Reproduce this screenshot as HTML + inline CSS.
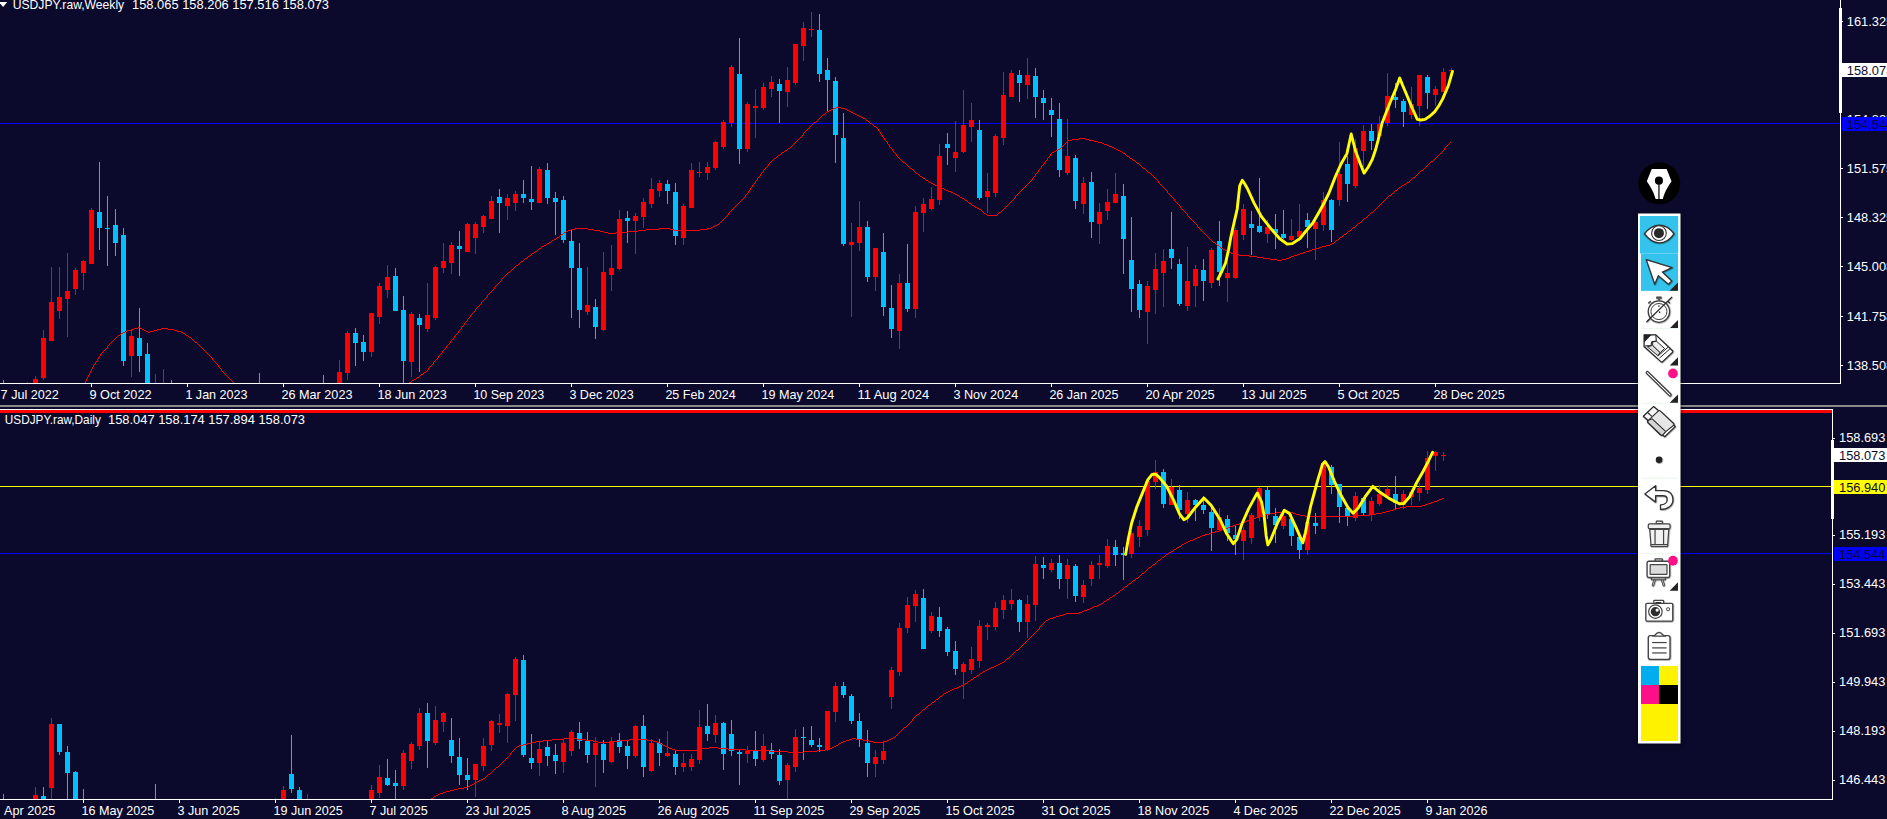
<!DOCTYPE html>
<html><head><meta charset="utf-8"><title>USDJPY</title>
<style>
html,body{margin:0;padding:0;background:#0b0a2c;overflow:hidden}
svg{display:block}
text{font-family:"Liberation Sans",Arial,sans-serif;font-size:13px}
</style></head><body>
<svg width="1887" height="819" viewBox="0 0 1887 819">
<rect width="1887" height="819" fill="#0b0a2c"/>

<g id="top" shape-rendering="crispEdges">
<clipPath id="ctop"><rect x="0" y="0" width="1840" height="383"/></clipPath>
<g clip-path="url(#ctop)">
<rect x="0" y="123" width="1840" height="1" fill="#0000ff"/>
<rect x="3" y="380" width="1" height="3" fill="#00bfff"/>
<rect x="27" y="382" width="1" height="1" fill="#ff0000"/>
<rect x="35" y="376" width="1" height="7" fill="#ff0000"/>
<rect x="33" y="379" width="5" height="4" fill="#ff0000"/>
<rect x="43" y="330" width="1" height="50" fill="#ff0000"/>
<rect x="41" y="338" width="5" height="40" fill="#ff0000"/>
<rect x="51" y="267" width="1" height="74" fill="#ff0000"/>
<rect x="49" y="302" width="5" height="39" fill="#ff0000"/>
<rect x="59" y="267" width="1" height="52" fill="#ff0000"/>
<rect x="57" y="297" width="5" height="14" fill="#ff0000"/>
<rect x="67" y="253" width="1" height="84" fill="#ff0000"/>
<rect x="65" y="291" width="5" height="8" fill="#ff0000"/>
<rect x="75" y="268" width="1" height="27" fill="#ff0000"/>
<rect x="73" y="270" width="5" height="19" fill="#ff0000"/>
<rect x="83" y="260" width="1" height="30" fill="#ff0000"/>
<rect x="81" y="261" width="5" height="12" fill="#ff0000"/>
<rect x="91" y="208" width="1" height="56" fill="#ff0000"/>
<rect x="89" y="210" width="5" height="54" fill="#ff0000"/>
<rect x="99" y="162" width="1" height="88" fill="#00bfff"/>
<rect x="97" y="212" width="5" height="16" fill="#00bfff"/>
<rect x="107" y="196" width="1" height="70" fill="#00bfff"/>
<rect x="105" y="228" width="5" height="1" fill="#00bfff"/>
<rect x="115" y="209" width="1" height="47" fill="#00bfff"/>
<rect x="113" y="225" width="5" height="18" fill="#00bfff"/>
<rect x="123" y="228" width="1" height="138" fill="#00bfff"/>
<rect x="121" y="235" width="5" height="126" fill="#00bfff"/>
<rect x="131" y="330" width="1" height="47" fill="#ff0000"/>
<rect x="129" y="336" width="5" height="20" fill="#ff0000"/>
<rect x="139" y="308" width="1" height="64" fill="#00bfff"/>
<rect x="137" y="338" width="5" height="18" fill="#00bfff"/>
<rect x="147" y="343" width="1" height="40" fill="#00bfff"/>
<rect x="145" y="354" width="5" height="29" fill="#00bfff"/>
<rect x="155" y="374" width="1" height="9" fill="#ff0000"/>
<rect x="163" y="369" width="1" height="14" fill="#ff0000"/>
<rect x="171" y="380" width="1" height="3" fill="#00bfff"/>
<rect x="259" y="373" width="1" height="10" fill="#00bfff"/>
<rect x="323" y="375" width="1" height="8" fill="#00bfff"/>
<rect x="339" y="360" width="1" height="23" fill="#ff0000"/>
<rect x="337" y="372" width="5" height="11" fill="#ff0000"/>
<rect x="347" y="331" width="1" height="49" fill="#ff0000"/>
<rect x="345" y="333" width="5" height="40" fill="#ff0000"/>
<rect x="355" y="328" width="1" height="38" fill="#00bfff"/>
<rect x="353" y="333" width="5" height="10" fill="#00bfff"/>
<rect x="363" y="335" width="1" height="26" fill="#00bfff"/>
<rect x="361" y="342" width="5" height="10" fill="#00bfff"/>
<rect x="371" y="313" width="1" height="44" fill="#ff0000"/>
<rect x="369" y="313" width="5" height="39" fill="#ff0000"/>
<rect x="379" y="283" width="1" height="41" fill="#ff0000"/>
<rect x="377" y="286" width="5" height="31" fill="#ff0000"/>
<rect x="387" y="265" width="1" height="33" fill="#ff0000"/>
<rect x="385" y="277" width="5" height="13" fill="#ff0000"/>
<rect x="395" y="268" width="1" height="43" fill="#00bfff"/>
<rect x="393" y="276" width="5" height="35" fill="#00bfff"/>
<rect x="403" y="296" width="1" height="87" fill="#00bfff"/>
<rect x="401" y="310" width="5" height="51" fill="#00bfff"/>
<rect x="411" y="312" width="1" height="65" fill="#ff0000"/>
<rect x="409" y="314" width="5" height="48" fill="#ff0000"/>
<rect x="419" y="314" width="1" height="58" fill="#00bfff"/>
<rect x="417" y="318" width="5" height="7" fill="#00bfff"/>
<rect x="427" y="283" width="1" height="49" fill="#ff0000"/>
<rect x="425" y="315" width="5" height="14" fill="#ff0000"/>
<rect x="435" y="266" width="1" height="54" fill="#ff0000"/>
<rect x="433" y="267" width="5" height="51" fill="#ff0000"/>
<rect x="443" y="243" width="1" height="30" fill="#ff0000"/>
<rect x="441" y="261" width="5" height="7" fill="#ff0000"/>
<rect x="451" y="242" width="1" height="32" fill="#ff0000"/>
<rect x="449" y="245" width="5" height="18" fill="#ff0000"/>
<rect x="459" y="231" width="1" height="45" fill="#00bfff"/>
<rect x="457" y="246" width="5" height="3" fill="#00bfff"/>
<rect x="467" y="223" width="1" height="29" fill="#ff0000"/>
<rect x="465" y="224" width="5" height="28" fill="#ff0000"/>
<rect x="475" y="222" width="1" height="32" fill="#ff0000"/>
<rect x="473" y="224" width="5" height="14" fill="#ff0000"/>
<rect x="483" y="215" width="1" height="18" fill="#ff0000"/>
<rect x="481" y="216" width="5" height="11" fill="#ff0000"/>
<rect x="491" y="196" width="1" height="23" fill="#ff0000"/>
<rect x="489" y="201" width="5" height="18" fill="#ff0000"/>
<rect x="499" y="189" width="1" height="44" fill="#00bfff"/>
<rect x="497" y="197" width="5" height="6" fill="#00bfff"/>
<rect x="507" y="194" width="1" height="26" fill="#ff0000"/>
<rect x="505" y="198" width="5" height="8" fill="#ff0000"/>
<rect x="515" y="191" width="1" height="20" fill="#ff0000"/>
<rect x="513" y="194" width="5" height="9" fill="#ff0000"/>
<rect x="523" y="180" width="1" height="23" fill="#00bfff"/>
<rect x="521" y="194" width="5" height="4" fill="#00bfff"/>
<rect x="531" y="166" width="1" height="44" fill="#00bfff"/>
<rect x="529" y="199" width="5" height="3" fill="#00bfff"/>
<rect x="539" y="167" width="1" height="36" fill="#ff0000"/>
<rect x="537" y="169" width="5" height="34" fill="#ff0000"/>
<rect x="547" y="163" width="1" height="41" fill="#00bfff"/>
<rect x="545" y="170" width="5" height="28" fill="#00bfff"/>
<rect x="555" y="192" width="1" height="43" fill="#00bfff"/>
<rect x="553" y="198" width="5" height="4" fill="#00bfff"/>
<rect x="563" y="196" width="1" height="47" fill="#00bfff"/>
<rect x="561" y="200" width="5" height="40" fill="#00bfff"/>
<rect x="571" y="230" width="1" height="88" fill="#00bfff"/>
<rect x="569" y="241" width="5" height="27" fill="#00bfff"/>
<rect x="579" y="243" width="1" height="85" fill="#00bfff"/>
<rect x="577" y="268" width="5" height="42" fill="#00bfff"/>
<rect x="587" y="267" width="1" height="48" fill="#ff0000"/>
<rect x="585" y="305" width="5" height="7" fill="#ff0000"/>
<rect x="595" y="299" width="1" height="40" fill="#00bfff"/>
<rect x="593" y="307" width="5" height="20" fill="#00bfff"/>
<rect x="603" y="252" width="1" height="79" fill="#ff0000"/>
<rect x="601" y="272" width="5" height="58" fill="#ff0000"/>
<rect x="611" y="245" width="1" height="46" fill="#ff0000"/>
<rect x="609" y="268" width="5" height="7" fill="#ff0000"/>
<rect x="619" y="210" width="1" height="60" fill="#ff0000"/>
<rect x="617" y="219" width="5" height="50" fill="#ff0000"/>
<rect x="627" y="211" width="1" height="32" fill="#00bfff"/>
<rect x="625" y="218" width="5" height="3" fill="#00bfff"/>
<rect x="635" y="213" width="1" height="41" fill="#ff0000"/>
<rect x="633" y="216" width="5" height="5" fill="#ff0000"/>
<rect x="643" y="198" width="1" height="30" fill="#ff0000"/>
<rect x="641" y="202" width="5" height="15" fill="#ff0000"/>
<rect x="651" y="178" width="1" height="30" fill="#ff0000"/>
<rect x="649" y="189" width="5" height="15" fill="#ff0000"/>
<rect x="659" y="180" width="1" height="17" fill="#ff0000"/>
<rect x="657" y="183" width="5" height="8" fill="#ff0000"/>
<rect x="667" y="180" width="1" height="24" fill="#00bfff"/>
<rect x="665" y="184" width="5" height="7" fill="#00bfff"/>
<rect x="675" y="183" width="1" height="62" fill="#00bfff"/>
<rect x="673" y="192" width="5" height="44" fill="#00bfff"/>
<rect x="683" y="204" width="1" height="41" fill="#ff0000"/>
<rect x="681" y="206" width="5" height="32" fill="#ff0000"/>
<rect x="691" y="163" width="1" height="45" fill="#ff0000"/>
<rect x="689" y="170" width="5" height="38" fill="#ff0000"/>
<rect x="699" y="162" width="1" height="15" fill="#ff0000"/>
<rect x="697" y="172" width="5" height="1" fill="#ff0000"/>
<rect x="707" y="162" width="1" height="18" fill="#ff0000"/>
<rect x="705" y="167" width="5" height="6" fill="#ff0000"/>
<rect x="715" y="141" width="1" height="29" fill="#ff0000"/>
<rect x="713" y="142" width="5" height="26" fill="#ff0000"/>
<rect x="723" y="120" width="1" height="29" fill="#ff0000"/>
<rect x="721" y="122" width="5" height="25" fill="#ff0000"/>
<rect x="731" y="65" width="1" height="62" fill="#ff0000"/>
<rect x="729" y="67" width="5" height="56" fill="#ff0000"/>
<rect x="739" y="38" width="1" height="126" fill="#00bfff"/>
<rect x="737" y="74" width="5" height="75" fill="#00bfff"/>
<rect x="747" y="102" width="1" height="50" fill="#ff0000"/>
<rect x="745" y="104" width="5" height="45" fill="#ff0000"/>
<rect x="755" y="89" width="1" height="49" fill="#ff0000"/>
<rect x="753" y="106" width="5" height="2" fill="#ff0000"/>
<rect x="763" y="83" width="1" height="27" fill="#ff0000"/>
<rect x="761" y="87" width="5" height="21" fill="#ff0000"/>
<rect x="771" y="76" width="1" height="21" fill="#ff0000"/>
<rect x="769" y="82" width="5" height="7" fill="#ff0000"/>
<rect x="779" y="79" width="1" height="44" fill="#00bfff"/>
<rect x="777" y="84" width="5" height="7" fill="#00bfff"/>
<rect x="787" y="67" width="1" height="40" fill="#ff0000"/>
<rect x="785" y="80" width="5" height="12" fill="#ff0000"/>
<rect x="795" y="44" width="1" height="41" fill="#ff0000"/>
<rect x="793" y="44" width="5" height="39" fill="#ff0000"/>
<rect x="803" y="22" width="1" height="39" fill="#ff0000"/>
<rect x="801" y="28" width="5" height="18" fill="#ff0000"/>
<rect x="811" y="12" width="1" height="25" fill="#ff0000"/>
<rect x="809" y="29" width="5" height="1" fill="#ff0000"/>
<rect x="819" y="14" width="1" height="68" fill="#00bfff"/>
<rect x="817" y="30" width="5" height="44" fill="#00bfff"/>
<rect x="827" y="58" width="1" height="54" fill="#00bfff"/>
<rect x="825" y="70" width="5" height="10" fill="#00bfff"/>
<rect x="835" y="77" width="1" height="86" fill="#00bfff"/>
<rect x="833" y="81" width="5" height="54" fill="#00bfff"/>
<rect x="843" y="113" width="1" height="133" fill="#00bfff"/>
<rect x="841" y="138" width="5" height="106" fill="#00bfff"/>
<rect x="851" y="223" width="1" height="94" fill="#ff0000"/>
<rect x="849" y="242" width="5" height="3" fill="#ff0000"/>
<rect x="859" y="201" width="1" height="50" fill="#ff0000"/>
<rect x="857" y="227" width="5" height="16" fill="#ff0000"/>
<rect x="867" y="221" width="1" height="61" fill="#00bfff"/>
<rect x="865" y="227" width="5" height="50" fill="#00bfff"/>
<rect x="875" y="248" width="1" height="43" fill="#ff0000"/>
<rect x="873" y="248" width="5" height="29" fill="#ff0000"/>
<rect x="883" y="233" width="1" height="83" fill="#00bfff"/>
<rect x="881" y="252" width="5" height="55" fill="#00bfff"/>
<rect x="891" y="285" width="1" height="53" fill="#00bfff"/>
<rect x="889" y="308" width="5" height="21" fill="#00bfff"/>
<rect x="899" y="274" width="1" height="75" fill="#ff0000"/>
<rect x="897" y="283" width="5" height="48" fill="#ff0000"/>
<rect x="907" y="244" width="1" height="68" fill="#00bfff"/>
<rect x="905" y="283" width="5" height="26" fill="#00bfff"/>
<rect x="915" y="206" width="1" height="112" fill="#ff0000"/>
<rect x="913" y="212" width="5" height="97" fill="#ff0000"/>
<rect x="923" y="198" width="1" height="34" fill="#ff0000"/>
<rect x="921" y="204" width="5" height="9" fill="#ff0000"/>
<rect x="931" y="187" width="1" height="23" fill="#ff0000"/>
<rect x="929" y="199" width="5" height="10" fill="#ff0000"/>
<rect x="939" y="144" width="1" height="61" fill="#ff0000"/>
<rect x="937" y="156" width="5" height="44" fill="#ff0000"/>
<rect x="947" y="133" width="1" height="32" fill="#00bfff"/>
<rect x="945" y="144" width="5" height="4" fill="#00bfff"/>
<rect x="955" y="121" width="1" height="51" fill="#ff0000"/>
<rect x="953" y="152" width="5" height="6" fill="#ff0000"/>
<rect x="963" y="90" width="1" height="63" fill="#ff0000"/>
<rect x="961" y="125" width="5" height="27" fill="#ff0000"/>
<rect x="971" y="103" width="1" height="39" fill="#ff0000"/>
<rect x="969" y="120" width="5" height="7" fill="#ff0000"/>
<rect x="979" y="120" width="1" height="80" fill="#00bfff"/>
<rect x="977" y="130" width="5" height="68" fill="#00bfff"/>
<rect x="987" y="173" width="1" height="40" fill="#ff0000"/>
<rect x="985" y="191" width="5" height="6" fill="#ff0000"/>
<rect x="995" y="134" width="1" height="63" fill="#ff0000"/>
<rect x="993" y="136" width="5" height="57" fill="#ff0000"/>
<rect x="1003" y="72" width="1" height="73" fill="#ff0000"/>
<rect x="1001" y="95" width="5" height="43" fill="#ff0000"/>
<rect x="1011" y="70" width="1" height="27" fill="#ff0000"/>
<rect x="1009" y="73" width="5" height="24" fill="#ff0000"/>
<rect x="1019" y="70" width="1" height="32" fill="#00bfff"/>
<rect x="1017" y="75" width="5" height="8" fill="#00bfff"/>
<rect x="1027" y="58" width="1" height="41" fill="#ff0000"/>
<rect x="1025" y="75" width="5" height="10" fill="#ff0000"/>
<rect x="1035" y="68" width="1" height="50" fill="#00bfff"/>
<rect x="1033" y="76" width="5" height="21" fill="#00bfff"/>
<rect x="1043" y="90" width="1" height="30" fill="#00bfff"/>
<rect x="1041" y="98" width="5" height="5" fill="#00bfff"/>
<rect x="1051" y="98" width="1" height="39" fill="#00bfff"/>
<rect x="1049" y="110" width="5" height="5" fill="#00bfff"/>
<rect x="1059" y="103" width="1" height="74" fill="#00bfff"/>
<rect x="1057" y="119" width="5" height="51" fill="#00bfff"/>
<rect x="1067" y="119" width="1" height="56" fill="#ff0000"/>
<rect x="1065" y="156" width="5" height="17" fill="#ff0000"/>
<rect x="1075" y="155" width="1" height="54" fill="#00bfff"/>
<rect x="1073" y="158" width="5" height="43" fill="#00bfff"/>
<rect x="1083" y="177" width="1" height="37" fill="#ff0000"/>
<rect x="1081" y="183" width="5" height="21" fill="#ff0000"/>
<rect x="1091" y="172" width="1" height="66" fill="#00bfff"/>
<rect x="1089" y="182" width="5" height="40" fill="#00bfff"/>
<rect x="1099" y="203" width="1" height="41" fill="#ff0000"/>
<rect x="1097" y="212" width="5" height="12" fill="#ff0000"/>
<rect x="1107" y="189" width="1" height="31" fill="#ff0000"/>
<rect x="1105" y="202" width="5" height="9" fill="#ff0000"/>
<rect x="1115" y="173" width="1" height="30" fill="#ff0000"/>
<rect x="1113" y="194" width="5" height="9" fill="#ff0000"/>
<rect x="1123" y="184" width="1" height="90" fill="#00bfff"/>
<rect x="1121" y="196" width="5" height="43" fill="#00bfff"/>
<rect x="1131" y="217" width="1" height="95" fill="#00bfff"/>
<rect x="1129" y="260" width="5" height="29" fill="#00bfff"/>
<rect x="1139" y="280" width="1" height="38" fill="#00bfff"/>
<rect x="1137" y="284" width="5" height="26" fill="#00bfff"/>
<rect x="1147" y="281" width="1" height="63" fill="#ff0000"/>
<rect x="1145" y="286" width="5" height="26" fill="#ff0000"/>
<rect x="1155" y="253" width="1" height="61" fill="#ff0000"/>
<rect x="1153" y="269" width="5" height="21" fill="#ff0000"/>
<rect x="1163" y="249" width="1" height="58" fill="#ff0000"/>
<rect x="1161" y="261" width="5" height="12" fill="#ff0000"/>
<rect x="1171" y="212" width="1" height="57" fill="#00bfff"/>
<rect x="1169" y="249" width="5" height="9" fill="#00bfff"/>
<rect x="1179" y="259" width="1" height="47" fill="#00bfff"/>
<rect x="1177" y="264" width="5" height="40" fill="#00bfff"/>
<rect x="1187" y="247" width="1" height="64" fill="#ff0000"/>
<rect x="1185" y="281" width="5" height="25" fill="#ff0000"/>
<rect x="1195" y="265" width="1" height="42" fill="#ff0000"/>
<rect x="1193" y="269" width="5" height="17" fill="#ff0000"/>
<rect x="1203" y="259" width="1" height="42" fill="#00bfff"/>
<rect x="1201" y="270" width="5" height="11" fill="#00bfff"/>
<rect x="1211" y="248" width="1" height="40" fill="#ff0000"/>
<rect x="1209" y="250" width="5" height="33" fill="#ff0000"/>
<rect x="1219" y="221" width="1" height="65" fill="#00bfff"/>
<rect x="1217" y="241" width="5" height="31" fill="#00bfff"/>
<rect x="1227" y="253" width="1" height="49" fill="#ff0000"/>
<rect x="1225" y="273" width="5" height="5" fill="#ff0000"/>
<rect x="1235" y="228" width="1" height="51" fill="#ff0000"/>
<rect x="1233" y="230" width="5" height="48" fill="#ff0000"/>
<rect x="1243" y="204" width="1" height="36" fill="#ff0000"/>
<rect x="1241" y="209" width="5" height="26" fill="#ff0000"/>
<rect x="1251" y="211" width="1" height="44" fill="#00bfff"/>
<rect x="1249" y="224" width="5" height="4" fill="#00bfff"/>
<rect x="1259" y="178" width="1" height="55" fill="#00bfff"/>
<rect x="1257" y="226" width="5" height="6" fill="#00bfff"/>
<rect x="1267" y="220" width="1" height="23" fill="#ff0000"/>
<rect x="1265" y="227" width="5" height="7" fill="#ff0000"/>
<rect x="1275" y="214" width="1" height="35" fill="#00bfff"/>
<rect x="1273" y="229" width="5" height="4" fill="#00bfff"/>
<rect x="1283" y="210" width="1" height="29" fill="#00bfff"/>
<rect x="1281" y="234" width="5" height="4" fill="#00bfff"/>
<rect x="1291" y="219" width="1" height="22" fill="#ff0000"/>
<rect x="1289" y="236" width="5" height="4" fill="#ff0000"/>
<rect x="1299" y="204" width="1" height="37" fill="#ff0000"/>
<rect x="1297" y="231" width="5" height="6" fill="#ff0000"/>
<rect x="1307" y="213" width="1" height="35" fill="#00bfff"/>
<rect x="1305" y="220" width="5" height="7" fill="#00bfff"/>
<rect x="1315" y="219" width="1" height="41" fill="#ff0000"/>
<rect x="1313" y="222" width="5" height="7" fill="#ff0000"/>
<rect x="1323" y="192" width="1" height="39" fill="#ff0000"/>
<rect x="1321" y="200" width="5" height="25" fill="#ff0000"/>
<rect x="1331" y="199" width="1" height="43" fill="#00bfff"/>
<rect x="1329" y="200" width="5" height="30" fill="#00bfff"/>
<rect x="1339" y="142" width="1" height="64" fill="#ff0000"/>
<rect x="1337" y="174" width="5" height="26" fill="#ff0000"/>
<rect x="1347" y="156" width="1" height="46" fill="#00bfff"/>
<rect x="1345" y="164" width="5" height="20" fill="#00bfff"/>
<rect x="1355" y="139" width="1" height="49" fill="#ff0000"/>
<rect x="1353" y="148" width="5" height="38" fill="#ff0000"/>
<rect x="1363" y="125" width="1" height="42" fill="#ff0000"/>
<rect x="1361" y="131" width="5" height="20" fill="#ff0000"/>
<rect x="1371" y="124" width="1" height="26" fill="#00bfff"/>
<rect x="1369" y="131" width="5" height="10" fill="#00bfff"/>
<rect x="1379" y="116" width="1" height="21" fill="#ff0000"/>
<rect x="1377" y="124" width="5" height="12" fill="#ff0000"/>
<rect x="1387" y="73" width="1" height="53" fill="#ff0000"/>
<rect x="1385" y="96" width="5" height="27" fill="#ff0000"/>
<rect x="1395" y="83" width="1" height="25" fill="#00bfff"/>
<rect x="1393" y="97" width="5" height="3" fill="#00bfff"/>
<rect x="1403" y="99" width="1" height="28" fill="#00bfff"/>
<rect x="1401" y="101" width="5" height="11" fill="#00bfff"/>
<rect x="1411" y="87" width="1" height="32" fill="#ff0000"/>
<rect x="1409" y="104" width="5" height="11" fill="#ff0000"/>
<rect x="1419" y="75" width="1" height="51" fill="#ff0000"/>
<rect x="1417" y="75" width="5" height="31" fill="#ff0000"/>
<rect x="1427" y="75" width="1" height="34" fill="#00bfff"/>
<rect x="1425" y="77" width="5" height="16" fill="#00bfff"/>
<rect x="1435" y="86" width="1" height="20" fill="#ff0000"/>
<rect x="1433" y="89" width="5" height="6" fill="#ff0000"/>
<rect x="1443" y="68" width="1" height="24" fill="#ff0000"/>
<rect x="1441" y="72" width="5" height="20" fill="#ff0000"/>
<rect x="1451" y="68" width="1" height="11" fill="#ff0000"/>
<rect x="1449" y="70" width="5" height="1" fill="#ff0000"/>
<path d="M138,327h2v1h-2zM134,328h4v1h-4zM140,328h2v1h-2zM161,328h7v1h-7zM131,329h3v1h-3zM142,329h2v1h-2zM157,329h4v1h-4zM168,329h6v1h-6zM127,330h4v1h-4zM144,330h2v1h-2zM154,330h3v1h-3zM174,330h3v1h-3zM125,331h2v1h-2zM146,331h2v1h-2zM150,331h4v1h-4zM177,331h4v1h-4zM123,332h2v1h-2zM148,332h2v1h-2zM181,332h2v1h-2zM121,333h2v1h-2zM183,333h2v1h-2zM120,334h1v1h-1zM185,334h1v1h-1zM118,335h2v1h-2zM186,335h2v1h-2zM117,336h1v1h-1zM188,336h1v1h-1zM116,337h1v1h-1zM189,337h2v1h-2zM115,338h1v1h-1zM191,338h1v1h-1zM114,339h1v1h-1zM192,339h1v1h-1zM113,340h1v1h-1zM193,340h1v1h-1zM112,341h1v1h-1zM194,341h1v1h-1zM111,342h1v1h-1zM195,342h2v1h-2zM110,343h1v1h-1zM197,343h1v1h-1zM109,344h1v1h-1zM198,344h1v1h-1zM108,345h1v1h-1zM199,345h1v1h-1zM107,346h1v1h-1zM200,346h1v1h-1zM107,347h1v1h-1zM201,347h1v1h-1zM106,348h1v1h-1zM202,348h1v1h-1zM105,349h1v1h-1zM203,349h1v1h-1zM104,350h1v1h-1zM204,350h1v1h-1zM103,351h1v1h-1zM205,351h1v1h-1zM102,352h1v1h-1zM206,352h1v1h-1zM101,353h1v1h-1zM207,353h1v1h-1zM100,354h1v1h-1zM208,354h1v1h-1zM100,355h1v1h-1zM209,355h1v1h-1zM99,356h1v1h-1zM210,356h1v1h-1zM98,357h1v1h-1zM211,357h1v1h-1zM98,358h1v1h-1zM212,358h1v1h-1zM97,359h1v1h-1zM212,359h1v1h-1zM97,360h1v1h-1zM213,360h1v1h-1zM96,361h1v1h-1zM214,361h1v1h-1zM95,362h1v1h-1zM215,362h1v1h-1zM95,363h1v1h-1zM216,363h1v1h-1zM94,364h1v1h-1zM217,364h1v1h-1zM93,365h1v1h-1zM218,365h1v1h-1zM93,366h1v1h-1zM218,366h1v1h-1zM92,367h1v1h-1zM219,367h1v1h-1zM92,368h1v1h-1zM220,368h1v1h-1zM91,369h1v1h-1zM221,369h1v1h-1zM91,370h1v1h-1zM221,370h1v1h-1zM90,371h1v1h-1zM222,371h1v1h-1zM90,372h1v1h-1zM223,372h1v1h-1zM89,373h1v1h-1zM224,373h1v1h-1zM89,374h1v1h-1zM225,374h1v1h-1zM88,375h1v1h-1zM226,375h1v1h-1zM88,376h1v1h-1zM227,376h1v1h-1zM87,377h1v1h-1zM228,377h1v1h-1zM87,378h1v1h-1zM229,378h1v1h-1zM86,379h1v1h-1zM230,379h1v1h-1zM86,380h1v1h-1zM231,380h1v1h-1zM85,381h1v1h-1zM232,381h1v1h-1zM85,382h1v1h-1zM233,382h1v1h-1zM84,383h1v1h-1zM234,383h1v1h-1z" fill="#ff0000"/>
<path d="M836,107h5v1h-5zM833,108h3v1h-3zM841,108h4v1h-4zM831,109h2v1h-2zM845,109h2v1h-2zM829,110h2v1h-2zM847,110h2v1h-2zM827,111h2v1h-2zM849,111h2v1h-2zM826,112h1v1h-1zM851,112h2v1h-2zM825,113h1v1h-1zM853,113h2v1h-2zM823,114h2v1h-2zM855,114h2v1h-2zM822,115h1v1h-1zM857,115h2v1h-2zM821,116h1v1h-1zM859,116h2v1h-2zM820,117h1v1h-1zM861,117h2v1h-2zM819,118h1v1h-1zM863,118h2v1h-2zM818,119h1v1h-1zM865,119h1v1h-1zM817,120h1v1h-1zM866,120h2v1h-2zM816,121h1v1h-1zM868,121h1v1h-1zM814,122h2v1h-2zM869,122h1v1h-1zM813,123h1v1h-1zM870,123h2v1h-2zM812,124h1v1h-1zM872,124h1v1h-1zM811,125h1v1h-1zM873,125h1v1h-1zM810,126h1v1h-1zM874,126h2v1h-2zM809,127h1v1h-1zM876,127h1v1h-1zM808,128h1v1h-1zM877,128h1v1h-1zM807,129h1v1h-1zM878,129h1v1h-1zM806,130h1v1h-1zM878,130h1v1h-1zM805,131h1v1h-1zM879,131h1v1h-1zM804,132h1v1h-1zM880,132h1v1h-1zM803,133h1v1h-1zM880,133h1v1h-1zM803,134h1v1h-1zM881,134h1v1h-1zM802,135h1v1h-1zM882,135h1v1h-1zM801,136h1v1h-1zM882,136h1v1h-1zM800,137h1v1h-1zM883,137h1v1h-1zM799,138h1v1h-1zM884,138h1v1h-1zM1079,138h6v1h-6zM798,139h1v1h-1zM884,139h1v1h-1zM1072,139h7v1h-7zM1085,139h4v1h-4zM797,140h1v1h-1zM885,140h1v1h-1zM1068,140h4v1h-4zM1089,140h5v1h-5zM796,141h1v1h-1zM886,141h1v1h-1zM1067,141h1v1h-1zM1094,141h4v1h-4zM795,142h1v1h-1zM887,142h1v1h-1zM1066,142h1v1h-1zM1098,142h4v1h-4zM1450,142h1v1h-1zM794,143h1v1h-1zM887,143h1v1h-1zM1065,143h1v1h-1zM1102,143h2v1h-2zM1449,143h1v1h-1zM793,144h1v1h-1zM888,144h1v1h-1zM1064,144h1v1h-1zM1104,144h3v1h-3zM1448,144h1v1h-1zM792,145h1v1h-1zM889,145h1v1h-1zM1063,145h1v1h-1zM1107,145h2v1h-2zM1447,145h1v1h-1zM791,146h1v1h-1zM889,146h1v1h-1zM1062,146h1v1h-1zM1109,146h3v1h-3zM1446,146h1v1h-1zM790,147h1v1h-1zM890,147h1v1h-1zM1061,147h1v1h-1zM1112,147h2v1h-2zM1445,147h1v1h-1zM788,148h2v1h-2zM891,148h1v1h-1zM1060,148h1v1h-1zM1114,148h2v1h-2zM1444,148h1v1h-1zM787,149h1v1h-1zM892,149h1v1h-1zM1058,149h2v1h-2zM1116,149h2v1h-2zM1444,149h1v1h-1zM785,150h2v1h-2zM892,150h1v1h-1zM1056,150h2v1h-2zM1118,150h2v1h-2zM1443,150h1v1h-1zM784,151h1v1h-1zM893,151h1v1h-1zM1054,151h2v1h-2zM1120,151h2v1h-2zM1442,151h1v1h-1zM782,152h2v1h-2zM894,152h1v1h-1zM1052,152h2v1h-2zM1122,152h1v1h-1zM1441,152h1v1h-1zM781,153h1v1h-1zM895,153h1v1h-1zM1051,153h1v1h-1zM1123,153h2v1h-2zM1440,153h1v1h-1zM780,154h1v1h-1zM896,154h1v1h-1zM1050,154h1v1h-1zM1125,154h1v1h-1zM1439,154h1v1h-1zM778,155h2v1h-2zM896,155h1v1h-1zM1050,155h1v1h-1zM1126,155h1v1h-1zM1438,155h1v1h-1zM777,156h1v1h-1zM897,156h1v1h-1zM1049,156h1v1h-1zM1127,156h2v1h-2zM1437,156h1v1h-1zM776,157h1v1h-1zM898,157h1v1h-1zM1048,157h1v1h-1zM1129,157h1v1h-1zM1436,157h1v1h-1zM774,158h2v1h-2zM899,158h1v1h-1zM1047,158h1v1h-1zM1130,158h2v1h-2zM1435,158h1v1h-1zM773,159h1v1h-1zM900,159h1v1h-1zM1047,159h1v1h-1zM1132,159h1v1h-1zM1434,159h1v1h-1zM772,160h1v1h-1zM901,160h1v1h-1zM1046,160h1v1h-1zM1133,160h2v1h-2zM1433,160h1v1h-1zM771,161h1v1h-1zM902,161h1v1h-1zM1045,161h1v1h-1zM1135,161h1v1h-1zM1431,161h2v1h-2zM770,162h1v1h-1zM903,162h2v1h-2zM1044,162h1v1h-1zM1136,162h1v1h-1zM1430,162h1v1h-1zM769,163h1v1h-1zM905,163h1v1h-1zM1044,163h1v1h-1zM1137,163h2v1h-2zM1429,163h1v1h-1zM768,164h1v1h-1zM906,164h1v1h-1zM1043,164h1v1h-1zM1139,164h1v1h-1zM1428,164h1v1h-1zM768,165h1v1h-1zM907,165h1v1h-1zM1042,165h1v1h-1zM1140,165h1v1h-1zM1427,165h1v1h-1zM767,166h1v1h-1zM908,166h1v1h-1zM1041,166h1v1h-1zM1141,166h1v1h-1zM1426,166h1v1h-1zM766,167h1v1h-1zM909,167h1v1h-1zM1041,167h1v1h-1zM1142,167h1v1h-1zM1425,167h1v1h-1zM765,168h1v1h-1zM910,168h2v1h-2zM1040,168h1v1h-1zM1143,168h2v1h-2zM1424,168h1v1h-1zM764,169h1v1h-1zM912,169h1v1h-1zM1039,169h1v1h-1zM1145,169h1v1h-1zM1423,169h1v1h-1zM763,170h1v1h-1zM913,170h1v1h-1zM1038,170h1v1h-1zM1146,170h1v1h-1zM1421,170h2v1h-2zM763,171h1v1h-1zM914,171h1v1h-1zM1038,171h1v1h-1zM1147,171h1v1h-1zM1420,171h1v1h-1zM762,172h1v1h-1zM915,172h1v1h-1zM1037,172h1v1h-1zM1148,172h2v1h-2zM1419,172h1v1h-1zM761,173h1v1h-1zM916,173h2v1h-2zM1036,173h1v1h-1zM1150,173h1v1h-1zM1418,173h1v1h-1zM760,174h1v1h-1zM918,174h1v1h-1zM1035,174h1v1h-1zM1151,174h1v1h-1zM1417,174h1v1h-1zM760,175h1v1h-1zM919,175h1v1h-1zM1035,175h1v1h-1zM1152,175h1v1h-1zM1416,175h1v1h-1zM759,176h1v1h-1zM920,176h2v1h-2zM1034,176h1v1h-1zM1153,176h1v1h-1zM1415,176h1v1h-1zM758,177h1v1h-1zM922,177h1v1h-1zM1033,177h1v1h-1zM1154,177h1v1h-1zM1413,177h2v1h-2zM757,178h1v1h-1zM923,178h2v1h-2zM1032,178h1v1h-1zM1155,178h1v1h-1zM1412,178h1v1h-1zM757,179h1v1h-1zM925,179h1v1h-1zM1032,179h1v1h-1zM1156,179h1v1h-1zM1411,179h1v1h-1zM756,180h1v1h-1zM926,180h2v1h-2zM1031,180h1v1h-1zM1157,180h1v1h-1zM1410,180h1v1h-1zM755,181h1v1h-1zM928,181h1v1h-1zM1030,181h1v1h-1zM1158,181h1v1h-1zM1409,181h1v1h-1zM755,182h1v1h-1zM929,182h2v1h-2zM1029,182h1v1h-1zM1158,182h1v1h-1zM1407,182h2v1h-2zM754,183h1v1h-1zM931,183h2v1h-2zM1028,183h1v1h-1zM1159,183h1v1h-1zM1406,183h1v1h-1zM753,184h1v1h-1zM933,184h2v1h-2zM1027,184h1v1h-1zM1160,184h1v1h-1zM1404,184h2v1h-2zM752,185h1v1h-1zM935,185h2v1h-2zM1026,185h1v1h-1zM1161,185h1v1h-1zM1402,185h2v1h-2zM752,186h1v1h-1zM937,186h2v1h-2zM1025,186h1v1h-1zM1162,186h1v1h-1zM1401,186h1v1h-1zM751,187h1v1h-1zM939,187h2v1h-2zM1024,187h1v1h-1zM1163,187h1v1h-1zM1399,187h2v1h-2zM750,188h1v1h-1zM941,188h3v1h-3zM1023,188h1v1h-1zM1164,188h1v1h-1zM1398,188h1v1h-1zM750,189h1v1h-1zM944,189h2v1h-2zM1022,189h1v1h-1zM1165,189h1v1h-1zM1397,189h1v1h-1zM749,190h1v1h-1zM946,190h2v1h-2zM1021,190h1v1h-1zM1166,190h1v1h-1zM1395,190h2v1h-2zM748,191h1v1h-1zM948,191h3v1h-3zM1020,191h1v1h-1zM1167,191h1v1h-1zM1394,191h1v1h-1zM748,192h1v1h-1zM951,192h2v1h-2zM1019,192h1v1h-1zM1167,192h1v1h-1zM1393,192h1v1h-1zM747,193h1v1h-1zM953,193h2v1h-2zM1018,193h1v1h-1zM1168,193h1v1h-1zM1392,193h1v1h-1zM746,194h1v1h-1zM955,194h2v1h-2zM1017,194h1v1h-1zM1169,194h1v1h-1zM1391,194h1v1h-1zM745,195h1v1h-1zM957,195h2v1h-2zM1016,195h1v1h-1zM1170,195h1v1h-1zM1389,195h2v1h-2zM745,196h1v1h-1zM959,196h1v1h-1zM1015,196h1v1h-1zM1171,196h1v1h-1zM1388,196h1v1h-1zM744,197h1v1h-1zM960,197h2v1h-2zM1015,197h1v1h-1zM1172,197h1v1h-1zM1387,197h1v1h-1zM743,198h1v1h-1zM962,198h2v1h-2zM1014,198h1v1h-1zM1173,198h1v1h-1zM1386,198h1v1h-1zM742,199h1v1h-1zM964,199h1v1h-1zM1013,199h1v1h-1zM1174,199h1v1h-1zM1385,199h1v1h-1zM741,200h1v1h-1zM965,200h2v1h-2zM1012,200h1v1h-1zM1174,200h1v1h-1zM1384,200h1v1h-1zM740,201h1v1h-1zM967,201h1v1h-1zM1011,201h1v1h-1zM1175,201h1v1h-1zM1383,201h1v1h-1zM739,202h1v1h-1zM968,202h1v1h-1zM1010,202h1v1h-1zM1176,202h1v1h-1zM1382,202h1v1h-1zM738,203h1v1h-1zM969,203h2v1h-2zM1009,203h1v1h-1zM1177,203h1v1h-1zM1381,203h1v1h-1zM737,204h1v1h-1zM971,204h1v1h-1zM1008,204h1v1h-1zM1178,204h1v1h-1zM1380,204h1v1h-1zM736,205h1v1h-1zM972,205h2v1h-2zM1007,205h1v1h-1zM1179,205h1v1h-1zM1379,205h1v1h-1zM735,206h1v1h-1zM974,206h1v1h-1zM1006,206h1v1h-1zM1180,206h1v1h-1zM1378,206h1v1h-1zM734,207h1v1h-1zM975,207h2v1h-2zM1005,207h1v1h-1zM1180,207h1v1h-1zM1377,207h1v1h-1zM733,208h1v1h-1zM977,208h2v1h-2zM1004,208h1v1h-1zM1181,208h1v1h-1zM1376,208h1v1h-1zM732,209h1v1h-1zM979,209h2v1h-2zM1003,209h1v1h-1zM1182,209h1v1h-1zM1375,209h1v1h-1zM731,210h1v1h-1zM981,210h1v1h-1zM1002,210h1v1h-1zM1183,210h1v1h-1zM1374,210h1v1h-1zM730,211h1v1h-1zM982,211h1v1h-1zM1001,211h1v1h-1zM1184,211h1v1h-1zM1373,211h1v1h-1zM729,212h1v1h-1zM983,212h1v1h-1zM999,212h2v1h-2zM1185,212h1v1h-1zM1371,212h2v1h-2zM728,213h1v1h-1zM984,213h2v1h-2zM998,213h1v1h-1zM1186,213h1v1h-1zM1370,213h1v1h-1zM728,214h1v1h-1zM986,214h1v1h-1zM997,214h1v1h-1zM1187,214h1v1h-1zM1369,214h1v1h-1zM727,215h1v1h-1zM987,215h10v1h-10zM1187,215h1v1h-1zM1368,215h1v1h-1zM726,216h1v1h-1zM1188,216h1v1h-1zM1367,216h1v1h-1zM725,217h1v1h-1zM1189,217h1v1h-1zM1366,217h1v1h-1zM724,218h1v1h-1zM1190,218h1v1h-1zM1364,218h2v1h-2zM723,219h1v1h-1zM1191,219h1v1h-1zM1363,219h1v1h-1zM722,220h1v1h-1zM1192,220h1v1h-1zM1362,220h1v1h-1zM721,221h1v1h-1zM1193,221h1v1h-1zM1361,221h1v1h-1zM720,222h1v1h-1zM1194,222h1v1h-1zM1360,222h1v1h-1zM719,223h1v1h-1zM1195,223h1v1h-1zM1358,223h2v1h-2zM717,224h2v1h-2zM1196,224h1v1h-1zM1357,224h1v1h-1zM715,225h2v1h-2zM1197,225h1v1h-1zM1356,225h1v1h-1zM713,226h2v1h-2zM1197,226h1v1h-1zM1355,226h1v1h-1zM711,227h2v1h-2zM1198,227h1v1h-1zM1353,227h2v1h-2zM575,228h13v1h-13zM659,228h11v1h-11zM707,228h4v1h-4zM1199,228h1v1h-1zM1352,228h1v1h-1zM571,229h4v1h-4zM588,229h6v1h-6zM646,229h13v1h-13zM670,229h4v1h-4zM700,229h7v1h-7zM1200,229h1v1h-1zM1351,229h1v1h-1zM568,230h3v1h-3zM594,230h6v1h-6zM638,230h8v1h-8zM674,230h26v1h-26zM1201,230h1v1h-1zM1350,230h1v1h-1zM566,231h2v1h-2zM600,231h4v1h-4zM628,231h10v1h-10zM1202,231h1v1h-1zM1348,231h2v1h-2zM564,232h2v1h-2zM604,232h4v1h-4zM616,232h12v1h-12zM1203,232h1v1h-1zM1347,232h1v1h-1zM563,233h1v1h-1zM608,233h8v1h-8zM1204,233h1v1h-1zM1346,233h1v1h-1zM561,234h2v1h-2zM1205,234h1v1h-1zM1344,234h2v1h-2zM560,235h1v1h-1zM1206,235h1v1h-1zM1343,235h1v1h-1zM559,236h1v1h-1zM1207,236h1v1h-1zM1342,236h1v1h-1zM557,237h2v1h-2zM1208,237h1v1h-1zM1340,237h2v1h-2zM556,238h1v1h-1zM1209,238h1v1h-1zM1339,238h1v1h-1zM554,239h2v1h-2zM1210,239h1v1h-1zM1338,239h1v1h-1zM552,240h2v1h-2zM1211,240h1v1h-1zM1336,240h2v1h-2zM551,241h1v1h-1zM1212,241h1v1h-1zM1335,241h1v1h-1zM549,242h2v1h-2zM1213,242h2v1h-2zM1334,242h1v1h-1zM547,243h2v1h-2zM1215,243h1v1h-1zM1332,243h2v1h-2zM546,244h1v1h-1zM1216,244h1v1h-1zM1330,244h2v1h-2zM544,245h2v1h-2zM1217,245h2v1h-2zM1326,245h4v1h-4zM542,246h2v1h-2zM1219,246h1v1h-1zM1322,246h4v1h-4zM541,247h1v1h-1zM1220,247h1v1h-1zM1319,247h3v1h-3zM539,248h2v1h-2zM1221,248h2v1h-2zM1315,248h4v1h-4zM538,249h1v1h-1zM1223,249h2v1h-2zM1312,249h3v1h-3zM537,250h1v1h-1zM1225,250h2v1h-2zM1309,250h3v1h-3zM535,251h2v1h-2zM1227,251h2v1h-2zM1306,251h3v1h-3zM534,252h1v1h-1zM1229,252h2v1h-2zM1303,252h3v1h-3zM532,253h2v1h-2zM1231,253h2v1h-2zM1300,253h3v1h-3zM531,254h1v1h-1zM1233,254h6v1h-6zM1297,254h3v1h-3zM530,255h1v1h-1zM1239,255h10v1h-10zM1294,255h3v1h-3zM528,256h2v1h-2zM1249,256h8v1h-8zM1291,256h3v1h-3zM527,257h1v1h-1zM1257,257h6v1h-6zM1289,257h2v1h-2zM525,258h2v1h-2zM1263,258h7v1h-7zM1286,258h3v1h-3zM524,259h1v1h-1zM1270,259h7v1h-7zM1282,259h4v1h-4zM523,260h1v1h-1zM1277,260h5v1h-5zM521,261h2v1h-2zM520,262h1v1h-1zM519,263h1v1h-1zM518,264h1v1h-1zM516,265h2v1h-2zM515,266h1v1h-1zM514,267h1v1h-1zM513,268h1v1h-1zM512,269h1v1h-1zM511,270h1v1h-1zM510,271h1v1h-1zM508,272h2v1h-2zM507,273h1v1h-1zM506,274h1v1h-1zM505,275h1v1h-1zM504,276h1v1h-1zM503,277h1v1h-1zM502,278h1v1h-1zM501,279h1v1h-1zM501,280h1v1h-1zM500,281h1v1h-1zM499,282h1v1h-1zM498,283h1v1h-1zM497,284h1v1h-1zM496,285h1v1h-1zM495,286h1v1h-1zM494,287h1v1h-1zM494,288h1v1h-1zM493,289h1v1h-1zM492,290h1v1h-1zM491,291h1v1h-1zM490,292h1v1h-1zM489,293h1v1h-1zM488,294h1v1h-1zM487,295h1v1h-1zM487,296h1v1h-1zM486,297h1v1h-1zM485,298h1v1h-1zM484,299h1v1h-1zM483,300h1v1h-1zM482,301h1v1h-1zM481,302h1v1h-1zM481,303h1v1h-1zM480,304h1v1h-1zM479,305h1v1h-1zM478,306h1v1h-1zM477,307h1v1h-1zM476,308h1v1h-1zM475,309h1v1h-1zM475,310h1v1h-1zM474,311h1v1h-1zM473,312h1v1h-1zM472,313h1v1h-1zM471,314h1v1h-1zM470,315h1v1h-1zM470,316h1v1h-1zM469,317h1v1h-1zM468,318h1v1h-1zM467,319h1v1h-1zM467,320h1v1h-1zM466,321h1v1h-1zM465,322h1v1h-1zM464,323h1v1h-1zM464,324h1v1h-1zM463,325h1v1h-1zM462,326h1v1h-1zM461,327h1v1h-1zM461,328h1v1h-1zM460,329h1v1h-1zM459,330h1v1h-1zM458,331h1v1h-1zM458,332h1v1h-1zM457,333h1v1h-1zM456,334h1v1h-1zM455,335h1v1h-1zM454,336h1v1h-1zM454,337h1v1h-1zM453,338h1v1h-1zM452,339h1v1h-1zM451,340h1v1h-1zM450,341h1v1h-1zM450,342h1v1h-1zM449,343h1v1h-1zM448,344h1v1h-1zM447,345h1v1h-1zM446,346h1v1h-1zM446,347h1v1h-1zM445,348h1v1h-1zM444,349h1v1h-1zM443,350h1v1h-1zM442,351h1v1h-1zM442,352h1v1h-1zM441,353h1v1h-1zM440,354h1v1h-1zM439,355h1v1h-1zM438,356h1v1h-1zM438,357h1v1h-1zM437,358h1v1h-1zM436,359h1v1h-1zM435,360h1v1h-1zM434,361h1v1h-1zM433,362h1v1h-1zM433,363h1v1h-1zM432,364h1v1h-1zM431,365h1v1h-1zM430,366h1v1h-1zM429,367h1v1h-1zM428,368h1v1h-1zM428,369h1v1h-1zM427,370h1v1h-1zM426,371h1v1h-1zM424,372h2v1h-2zM423,373h1v1h-1zM421,374h2v1h-2zM420,375h1v1h-1zM419,376h1v1h-1zM417,377h2v1h-2zM416,378h1v1h-1zM414,379h2v1h-2zM412,380h2v1h-2zM411,381h1v1h-1zM409,382h2v1h-2zM408,383h1v1h-1z" fill="#ff0000"/>
</g>
<polyline points="1218.0,279.0 1222.0,271.0 1225.6,262.8 1228.5,250.0 1230.8,237.2 1234.0,223.0 1237.2,209.0 1238.5,197.0 1239.7,185.9 1242.3,180.3 1244.8,184.0 1247.4,188.5 1253.8,202.6 1261.5,216.7 1270.5,228.2 1279.5,238.5 1287.2,244.1 1292.3,243.6 1300.0,238.5 1306.0,231.0 1312.8,223.0 1318.0,214.0 1323.0,205.0 1329.0,193.0 1335.2,177.0 1341.0,164.0 1346.9,153.6 1349.0,144.0 1351.2,134.0 1353.5,143.0 1355.7,151.6 1360.0,163.0 1364.1,173.1 1368.3,167.0 1372.3,159.4 1375.5,150.0 1378.2,139.9 1382.0,123.3 1386.0,113.0 1390.0,102.8 1395.8,89.1 1399.7,78.0 1402.5,85.0 1405.5,92.0 1412.4,108.6 1417.3,119.4 1421.0,120.0 1425.0,119.4 1430.0,116.0 1434.8,111.6 1439.0,105.5 1442.7,98.9 1448.5,85.2 1452.4,71.5" fill="none" stroke="#ffff00" stroke-width="2.9" stroke-linejoin="round" stroke-linecap="round" shape-rendering="auto"/>
<rect x="0" y="383" width="1841" height="1" fill="#fff"/>
<rect x="1840" y="0" width="1" height="384" fill="#fff"/>
<rect x="1839" y="8" width="3" height="105" fill="#fff"/>
<rect x="91" y="384" width="1" height="3" fill="#fff"/>
<rect x="187" y="384" width="1" height="3" fill="#fff"/>
<rect x="283" y="384" width="1" height="3" fill="#fff"/>
<rect x="379" y="384" width="1" height="3" fill="#fff"/>
<rect x="475" y="384" width="1" height="3" fill="#fff"/>
<rect x="571" y="384" width="1" height="3" fill="#fff"/>
<rect x="667" y="384" width="1" height="3" fill="#fff"/>
<rect x="763" y="384" width="1" height="3" fill="#fff"/>
<rect x="859" y="384" width="1" height="3" fill="#fff"/>
<rect x="955" y="384" width="1" height="3" fill="#fff"/>
<rect x="1051" y="384" width="1" height="3" fill="#fff"/>
<rect x="1147" y="384" width="1" height="3" fill="#fff"/>
<rect x="1243" y="384" width="1" height="3" fill="#fff"/>
<rect x="1339" y="384" width="1" height="3" fill="#fff"/>
<rect x="1435" y="384" width="1" height="3" fill="#fff"/>
</g>
<text x="0.6" y="399" fill="#fff" text-anchor="start" textLength="58.3" lengthAdjust="spacingAndGlyphs">7 Jul 2022</text>
<text x="89.4" y="399" fill="#fff" text-anchor="start" textLength="62.2" lengthAdjust="spacingAndGlyphs">9 Oct 2022</text>
<text x="185.4" y="399" fill="#fff" text-anchor="start" textLength="62.1" lengthAdjust="spacingAndGlyphs">1 Jan 2023</text>
<text x="281.4" y="399" fill="#fff" text-anchor="start" textLength="71.1" lengthAdjust="spacingAndGlyphs">26 Mar 2023</text>
<text x="377.4" y="399" fill="#fff" text-anchor="start" textLength="69.5" lengthAdjust="spacingAndGlyphs">18 Jun 2023</text>
<text x="473.4" y="399" fill="#fff" text-anchor="start" textLength="70.9" lengthAdjust="spacingAndGlyphs">10 Sep 2023</text>
<text x="569.4" y="399" fill="#fff" text-anchor="start" textLength="64.3" lengthAdjust="spacingAndGlyphs">3 Dec 2023</text>
<text x="665.4" y="399" fill="#fff" text-anchor="start" textLength="70.4" lengthAdjust="spacingAndGlyphs">25 Feb 2024</text>
<text x="761.4" y="399" fill="#fff" text-anchor="start" textLength="72.9" lengthAdjust="spacingAndGlyphs">19 May 2024</text>
<text x="857.4" y="399" fill="#fff" text-anchor="start" textLength="71.8" lengthAdjust="spacingAndGlyphs">11 Aug 2024</text>
<text x="953.4" y="399" fill="#fff" text-anchor="start" textLength="64.8" lengthAdjust="spacingAndGlyphs">3 Nov 2024</text>
<text x="1049.4" y="399" fill="#fff" text-anchor="start" textLength="69.1" lengthAdjust="spacingAndGlyphs">26 Jan 2025</text>
<text x="1145.4" y="399" fill="#fff" text-anchor="start" textLength="69.3" lengthAdjust="spacingAndGlyphs">20 Apr 2025</text>
<text x="1241.4" y="399" fill="#fff" text-anchor="start" textLength="65.3" lengthAdjust="spacingAndGlyphs">13 Jul 2025</text>
<text x="1337.4" y="399" fill="#fff" text-anchor="start" textLength="62.2" lengthAdjust="spacingAndGlyphs">5 Oct 2025</text>
<text x="1433.4" y="399" fill="#fff" text-anchor="start" textLength="71.3" lengthAdjust="spacingAndGlyphs">28 Dec 2025</text>
<path d="M-1,2 L7.2,2 L3.1,7 Z" fill="#fff"/>
<text x="12.7" y="9" fill="#fff" text-anchor="start" textLength="111.5" lengthAdjust="spacingAndGlyphs">USDJPY.raw,Weekly</text>
<text x="132" y="9" fill="#fff" text-anchor="start" textLength="197" lengthAdjust="spacingAndGlyphs">158.065 158.206 157.516 158.073</text>
<g shape-rendering="crispEdges">
<rect x="1841" y="21" width="2" height="1" fill="#fff"/>
<rect x="1841" y="168" width="2" height="1" fill="#fff"/>
<rect x="1841" y="217" width="2" height="1" fill="#fff"/>
<rect x="1841" y="266" width="2" height="1" fill="#fff"/>
<rect x="1841" y="316" width="2" height="1" fill="#fff"/>
<rect x="1841" y="365" width="2" height="1" fill="#fff"/>
<rect x="1842" y="63" width="45" height="14" fill="#fff"/>
</g>
<text x="1846.8" y="25.5" fill="#fff" text-anchor="start" textLength="46.4" lengthAdjust="spacingAndGlyphs">161.325</text>
<text x="1846.8" y="123.5" fill="#fff" text-anchor="start" textLength="46.4" lengthAdjust="spacingAndGlyphs">154.825</text>
<text x="1846.8" y="172.5" fill="#fff" text-anchor="start" textLength="46.4" lengthAdjust="spacingAndGlyphs">151.575</text>
<text x="1846.8" y="221.5" fill="#fff" text-anchor="start" textLength="46.4" lengthAdjust="spacingAndGlyphs">148.325</text>
<text x="1846.8" y="270.5" fill="#fff" text-anchor="start" textLength="46.4" lengthAdjust="spacingAndGlyphs">145.008</text>
<text x="1846.8" y="320.5" fill="#fff" text-anchor="start" textLength="46.4" lengthAdjust="spacingAndGlyphs">141.758</text>
<text x="1846.8" y="369.5" fill="#fff" text-anchor="start" textLength="46.4" lengthAdjust="spacingAndGlyphs">138.508</text>
<rect x="1842" y="117" width="45" height="14" fill="#0000ff" shape-rendering="crispEdges"/>
<text x="1846.8" y="74.5" fill="#0b0a2c" text-anchor="start" textLength="46.4" lengthAdjust="spacingAndGlyphs">158.073</text>
<text x="1846.8" y="128.5" fill="#0b0a2c" text-anchor="start" textLength="46.4" lengthAdjust="spacingAndGlyphs">154.544</text>
<g shape-rendering="crispEdges">
<rect x="0" y="405" width="1887" height="2" fill="#8a8a8a"/>
<rect x="0" y="409" width="1833" height="1" fill="#fff"/>
<rect x="0" y="410" width="1832" height="3" fill="#ff0000"/>
<clipPath id="cbot"><rect x="0" y="413" width="1832" height="386"/></clipPath>
<g clip-path="url(#cbot)">
<rect x="0" y="486" width="1832" height="1" fill="#ffff00"/>
<rect x="0" y="553" width="1832" height="1" fill="#0000ff"/>
<rect x="3" y="794" width="1" height="5" fill="#00bfff"/>
<rect x="35" y="787" width="1" height="12" fill="#ff0000"/>
<rect x="33" y="795" width="5" height="4" fill="#ff0000"/>
<rect x="43" y="787" width="1" height="12" fill="#00bfff"/>
<rect x="41" y="796" width="5" height="3" fill="#00bfff"/>
<rect x="51" y="718" width="1" height="81" fill="#ff0000"/>
<rect x="49" y="724" width="5" height="64" fill="#ff0000"/>
<rect x="59" y="724" width="1" height="31" fill="#00bfff"/>
<rect x="57" y="724" width="5" height="28" fill="#00bfff"/>
<rect x="67" y="746" width="1" height="53" fill="#00bfff"/>
<rect x="65" y="752" width="5" height="21" fill="#00bfff"/>
<rect x="75" y="771" width="1" height="28" fill="#00bfff"/>
<rect x="73" y="772" width="5" height="27" fill="#00bfff"/>
<rect x="83" y="789" width="1" height="10" fill="#00bfff"/>
<rect x="155" y="784" width="1" height="15" fill="#00bfff"/>
<rect x="275" y="798" width="1" height="1" fill="#ff0000"/>
<rect x="283" y="786" width="1" height="13" fill="#ff0000"/>
<rect x="281" y="790" width="5" height="9" fill="#ff0000"/>
<rect x="291" y="735" width="1" height="58" fill="#00bfff"/>
<rect x="289" y="774" width="5" height="15" fill="#00bfff"/>
<rect x="299" y="787" width="1" height="12" fill="#00bfff"/>
<rect x="297" y="790" width="5" height="9" fill="#00bfff"/>
<rect x="307" y="794" width="1" height="5" fill="#ff0000"/>
<rect x="371" y="785" width="1" height="14" fill="#ff0000"/>
<rect x="369" y="790" width="5" height="9" fill="#ff0000"/>
<rect x="379" y="765" width="1" height="33" fill="#ff0000"/>
<rect x="377" y="777" width="5" height="16" fill="#ff0000"/>
<rect x="387" y="759" width="1" height="27" fill="#00bfff"/>
<rect x="385" y="778" width="5" height="7" fill="#00bfff"/>
<rect x="395" y="770" width="1" height="29" fill="#00bfff"/>
<rect x="393" y="783" width="5" height="3" fill="#00bfff"/>
<rect x="403" y="750" width="1" height="40" fill="#ff0000"/>
<rect x="401" y="753" width="5" height="33" fill="#ff0000"/>
<rect x="411" y="742" width="1" height="27" fill="#ff0000"/>
<rect x="409" y="744" width="5" height="17" fill="#ff0000"/>
<rect x="419" y="708" width="1" height="42" fill="#ff0000"/>
<rect x="417" y="713" width="5" height="33" fill="#ff0000"/>
<rect x="427" y="703" width="1" height="65" fill="#00bfff"/>
<rect x="425" y="713" width="5" height="28" fill="#00bfff"/>
<rect x="435" y="706" width="1" height="39" fill="#ff0000"/>
<rect x="433" y="720" width="5" height="23" fill="#ff0000"/>
<rect x="443" y="712" width="1" height="20" fill="#ff0000"/>
<rect x="441" y="713" width="5" height="9" fill="#ff0000"/>
<rect x="451" y="718" width="1" height="45" fill="#00bfff"/>
<rect x="449" y="740" width="5" height="16" fill="#00bfff"/>
<rect x="459" y="738" width="1" height="47" fill="#00bfff"/>
<rect x="457" y="757" width="5" height="18" fill="#00bfff"/>
<rect x="467" y="758" width="1" height="32" fill="#00bfff"/>
<rect x="465" y="775" width="5" height="5" fill="#00bfff"/>
<rect x="475" y="764" width="1" height="33" fill="#ff0000"/>
<rect x="473" y="764" width="5" height="16" fill="#ff0000"/>
<rect x="483" y="738" width="1" height="33" fill="#ff0000"/>
<rect x="481" y="746" width="5" height="20" fill="#ff0000"/>
<rect x="491" y="720" width="1" height="31" fill="#ff0000"/>
<rect x="489" y="721" width="5" height="24" fill="#ff0000"/>
<rect x="499" y="714" width="1" height="19" fill="#ff0000"/>
<rect x="497" y="723" width="5" height="2" fill="#ff0000"/>
<rect x="507" y="693" width="1" height="50" fill="#ff0000"/>
<rect x="505" y="694" width="5" height="32" fill="#ff0000"/>
<rect x="515" y="657" width="1" height="64" fill="#ff0000"/>
<rect x="513" y="659" width="5" height="36" fill="#ff0000"/>
<rect x="523" y="655" width="1" height="102" fill="#00bfff"/>
<rect x="521" y="660" width="5" height="95" fill="#00bfff"/>
<rect x="531" y="734" width="1" height="35" fill="#00bfff"/>
<rect x="529" y="758" width="5" height="5" fill="#00bfff"/>
<rect x="539" y="742" width="1" height="34" fill="#ff0000"/>
<rect x="537" y="749" width="5" height="14" fill="#ff0000"/>
<rect x="547" y="741" width="1" height="25" fill="#00bfff"/>
<rect x="545" y="747" width="5" height="9" fill="#00bfff"/>
<rect x="555" y="744" width="1" height="30" fill="#00bfff"/>
<rect x="553" y="755" width="5" height="6" fill="#00bfff"/>
<rect x="563" y="739" width="1" height="34" fill="#ff0000"/>
<rect x="561" y="743" width="5" height="19" fill="#ff0000"/>
<rect x="571" y="730" width="1" height="26" fill="#ff0000"/>
<rect x="569" y="732" width="5" height="19" fill="#ff0000"/>
<rect x="579" y="722" width="1" height="27" fill="#00bfff"/>
<rect x="577" y="733" width="5" height="8" fill="#00bfff"/>
<rect x="587" y="732" width="1" height="31" fill="#00bfff"/>
<rect x="585" y="741" width="5" height="14" fill="#00bfff"/>
<rect x="595" y="737" width="1" height="50" fill="#ff0000"/>
<rect x="593" y="743" width="5" height="12" fill="#ff0000"/>
<rect x="603" y="740" width="1" height="33" fill="#00bfff"/>
<rect x="601" y="744" width="5" height="16" fill="#00bfff"/>
<rect x="611" y="737" width="1" height="26" fill="#ff0000"/>
<rect x="609" y="741" width="5" height="21" fill="#ff0000"/>
<rect x="619" y="733" width="1" height="20" fill="#00bfff"/>
<rect x="617" y="740" width="5" height="7" fill="#00bfff"/>
<rect x="627" y="741" width="1" height="28" fill="#00bfff"/>
<rect x="625" y="746" width="5" height="10" fill="#00bfff"/>
<rect x="635" y="725" width="1" height="33" fill="#ff0000"/>
<rect x="633" y="726" width="5" height="30" fill="#ff0000"/>
<rect x="643" y="715" width="1" height="62" fill="#00bfff"/>
<rect x="641" y="726" width="5" height="41" fill="#00bfff"/>
<rect x="651" y="739" width="1" height="33" fill="#ff0000"/>
<rect x="649" y="743" width="5" height="28" fill="#ff0000"/>
<rect x="659" y="739" width="1" height="27" fill="#00bfff"/>
<rect x="657" y="743" width="5" height="10" fill="#00bfff"/>
<rect x="667" y="731" width="1" height="26" fill="#ff0000"/>
<rect x="665" y="753" width="5" height="3" fill="#ff0000"/>
<rect x="675" y="751" width="1" height="24" fill="#00bfff"/>
<rect x="673" y="754" width="5" height="13" fill="#00bfff"/>
<rect x="683" y="753" width="1" height="19" fill="#ff0000"/>
<rect x="681" y="763" width="5" height="4" fill="#ff0000"/>
<rect x="691" y="754" width="1" height="17" fill="#ff0000"/>
<rect x="689" y="759" width="5" height="8" fill="#ff0000"/>
<rect x="699" y="710" width="1" height="54" fill="#ff0000"/>
<rect x="697" y="727" width="5" height="33" fill="#ff0000"/>
<rect x="707" y="704" width="1" height="37" fill="#00bfff"/>
<rect x="705" y="726" width="5" height="8" fill="#00bfff"/>
<rect x="715" y="715" width="1" height="28" fill="#ff0000"/>
<rect x="713" y="723" width="5" height="12" fill="#ff0000"/>
<rect x="723" y="722" width="1" height="48" fill="#00bfff"/>
<rect x="721" y="723" width="5" height="31" fill="#00bfff"/>
<rect x="731" y="720" width="1" height="36" fill="#00bfff"/>
<rect x="729" y="734" width="5" height="17" fill="#00bfff"/>
<rect x="739" y="749" width="1" height="36" fill="#00bfff"/>
<rect x="737" y="752" width="5" height="2" fill="#00bfff"/>
<rect x="747" y="746" width="1" height="17" fill="#ff0000"/>
<rect x="745" y="751" width="5" height="3" fill="#ff0000"/>
<rect x="755" y="731" width="1" height="35" fill="#00bfff"/>
<rect x="753" y="751" width="5" height="8" fill="#00bfff"/>
<rect x="763" y="734" width="1" height="28" fill="#ff0000"/>
<rect x="761" y="746" width="5" height="14" fill="#ff0000"/>
<rect x="771" y="743" width="1" height="16" fill="#00bfff"/>
<rect x="769" y="750" width="5" height="4" fill="#00bfff"/>
<rect x="779" y="749" width="1" height="36" fill="#00bfff"/>
<rect x="777" y="755" width="5" height="26" fill="#00bfff"/>
<rect x="787" y="763" width="1" height="36" fill="#ff0000"/>
<rect x="785" y="765" width="5" height="15" fill="#ff0000"/>
<rect x="795" y="729" width="1" height="43" fill="#ff0000"/>
<rect x="793" y="737" width="5" height="30" fill="#ff0000"/>
<rect x="803" y="727" width="1" height="33" fill="#00bfff"/>
<rect x="801" y="737" width="5" height="1" fill="#00bfff"/>
<rect x="811" y="726" width="1" height="21" fill="#00bfff"/>
<rect x="809" y="740" width="5" height="5" fill="#00bfff"/>
<rect x="819" y="738" width="1" height="14" fill="#00bfff"/>
<rect x="817" y="745" width="5" height="2" fill="#00bfff"/>
<rect x="827" y="711" width="1" height="40" fill="#ff0000"/>
<rect x="825" y="711" width="5" height="38" fill="#ff0000"/>
<rect x="835" y="682" width="1" height="40" fill="#ff0000"/>
<rect x="833" y="686" width="5" height="26" fill="#ff0000"/>
<rect x="843" y="682" width="1" height="16" fill="#00bfff"/>
<rect x="841" y="686" width="5" height="9" fill="#00bfff"/>
<rect x="851" y="694" width="1" height="30" fill="#00bfff"/>
<rect x="849" y="696" width="5" height="25" fill="#00bfff"/>
<rect x="859" y="713" width="1" height="34" fill="#00bfff"/>
<rect x="857" y="721" width="5" height="19" fill="#00bfff"/>
<rect x="867" y="730" width="1" height="47" fill="#00bfff"/>
<rect x="865" y="743" width="5" height="20" fill="#00bfff"/>
<rect x="875" y="750" width="1" height="27" fill="#ff0000"/>
<rect x="873" y="757" width="5" height="7" fill="#ff0000"/>
<rect x="883" y="741" width="1" height="23" fill="#ff0000"/>
<rect x="881" y="751" width="5" height="9" fill="#ff0000"/>
<rect x="891" y="667" width="1" height="42" fill="#ff0000"/>
<rect x="889" y="670" width="5" height="27" fill="#ff0000"/>
<rect x="899" y="623" width="1" height="53" fill="#ff0000"/>
<rect x="897" y="628" width="5" height="44" fill="#ff0000"/>
<rect x="907" y="597" width="1" height="36" fill="#ff0000"/>
<rect x="905" y="605" width="5" height="23" fill="#ff0000"/>
<rect x="915" y="590" width="1" height="32" fill="#ff0000"/>
<rect x="913" y="594" width="5" height="12" fill="#ff0000"/>
<rect x="923" y="589" width="1" height="60" fill="#00bfff"/>
<rect x="921" y="598" width="5" height="51" fill="#00bfff"/>
<rect x="931" y="612" width="1" height="21" fill="#ff0000"/>
<rect x="929" y="616" width="5" height="15" fill="#ff0000"/>
<rect x="939" y="607" width="1" height="30" fill="#00bfff"/>
<rect x="937" y="617" width="5" height="14" fill="#00bfff"/>
<rect x="947" y="627" width="1" height="29" fill="#00bfff"/>
<rect x="945" y="629" width="5" height="23" fill="#00bfff"/>
<rect x="955" y="641" width="1" height="34" fill="#00bfff"/>
<rect x="953" y="651" width="5" height="18" fill="#00bfff"/>
<rect x="963" y="662" width="1" height="37" fill="#ff0000"/>
<rect x="961" y="664" width="5" height="8" fill="#ff0000"/>
<rect x="971" y="647" width="1" height="27" fill="#ff0000"/>
<rect x="969" y="659" width="5" height="11" fill="#ff0000"/>
<rect x="979" y="620" width="1" height="48" fill="#ff0000"/>
<rect x="977" y="626" width="5" height="35" fill="#ff0000"/>
<rect x="987" y="623" width="1" height="17" fill="#ff0000"/>
<rect x="985" y="625" width="5" height="2" fill="#ff0000"/>
<rect x="995" y="602" width="1" height="28" fill="#ff0000"/>
<rect x="993" y="608" width="5" height="19" fill="#ff0000"/>
<rect x="1003" y="595" width="1" height="24" fill="#ff0000"/>
<rect x="1001" y="600" width="5" height="10" fill="#ff0000"/>
<rect x="1011" y="589" width="1" height="21" fill="#ff0000"/>
<rect x="1009" y="600" width="5" height="4" fill="#ff0000"/>
<rect x="1019" y="599" width="1" height="33" fill="#00bfff"/>
<rect x="1017" y="600" width="5" height="22" fill="#00bfff"/>
<rect x="1027" y="595" width="1" height="43" fill="#ff0000"/>
<rect x="1025" y="604" width="5" height="18" fill="#ff0000"/>
<rect x="1035" y="556" width="1" height="65" fill="#ff0000"/>
<rect x="1033" y="564" width="5" height="41" fill="#ff0000"/>
<rect x="1043" y="557" width="1" height="22" fill="#00bfff"/>
<rect x="1041" y="565" width="5" height="3" fill="#00bfff"/>
<rect x="1051" y="559" width="1" height="13" fill="#ff0000"/>
<rect x="1049" y="563" width="5" height="7" fill="#ff0000"/>
<rect x="1059" y="555" width="1" height="34" fill="#00bfff"/>
<rect x="1057" y="563" width="5" height="16" fill="#00bfff"/>
<rect x="1067" y="559" width="1" height="40" fill="#ff0000"/>
<rect x="1065" y="565" width="5" height="14" fill="#ff0000"/>
<rect x="1075" y="564" width="1" height="38" fill="#00bfff"/>
<rect x="1073" y="566" width="5" height="30" fill="#00bfff"/>
<rect x="1083" y="580" width="1" height="23" fill="#ff0000"/>
<rect x="1081" y="585" width="5" height="12" fill="#ff0000"/>
<rect x="1091" y="561" width="1" height="25" fill="#ff0000"/>
<rect x="1089" y="565" width="5" height="14" fill="#ff0000"/>
<rect x="1099" y="555" width="1" height="24" fill="#ff0000"/>
<rect x="1097" y="563" width="5" height="2" fill="#ff0000"/>
<rect x="1107" y="539" width="1" height="29" fill="#ff0000"/>
<rect x="1105" y="546" width="5" height="20" fill="#ff0000"/>
<rect x="1115" y="540" width="1" height="26" fill="#00bfff"/>
<rect x="1113" y="547" width="5" height="8" fill="#00bfff"/>
<rect x="1123" y="547" width="1" height="33" fill="#00bfff"/>
<rect x="1121" y="553" width="5" height="2" fill="#00bfff"/>
<rect x="1131" y="531" width="1" height="27" fill="#ff0000"/>
<rect x="1129" y="533" width="5" height="21" fill="#ff0000"/>
<rect x="1139" y="520" width="1" height="27" fill="#ff0000"/>
<rect x="1137" y="526" width="5" height="11" fill="#ff0000"/>
<rect x="1147" y="480" width="1" height="56" fill="#ff0000"/>
<rect x="1145" y="481" width="5" height="49" fill="#ff0000"/>
<rect x="1155" y="460" width="1" height="29" fill="#ff0000"/>
<rect x="1153" y="472" width="5" height="10" fill="#ff0000"/>
<rect x="1163" y="469" width="1" height="39" fill="#00bfff"/>
<rect x="1161" y="472" width="5" height="32" fill="#00bfff"/>
<rect x="1171" y="479" width="1" height="26" fill="#ff0000"/>
<rect x="1169" y="487" width="5" height="18" fill="#ff0000"/>
<rect x="1179" y="485" width="1" height="34" fill="#00bfff"/>
<rect x="1177" y="490" width="5" height="20" fill="#00bfff"/>
<rect x="1187" y="492" width="1" height="31" fill="#ff0000"/>
<rect x="1185" y="500" width="5" height="14" fill="#ff0000"/>
<rect x="1195" y="499" width="1" height="22" fill="#00bfff"/>
<rect x="1193" y="500" width="5" height="5" fill="#00bfff"/>
<rect x="1203" y="496" width="1" height="18" fill="#00bfff"/>
<rect x="1201" y="505" width="5" height="5" fill="#00bfff"/>
<rect x="1211" y="508" width="1" height="43" fill="#00bfff"/>
<rect x="1209" y="512" width="5" height="16" fill="#00bfff"/>
<rect x="1219" y="508" width="1" height="22" fill="#ff0000"/>
<rect x="1217" y="517" width="5" height="13" fill="#ff0000"/>
<rect x="1227" y="515" width="1" height="26" fill="#00bfff"/>
<rect x="1225" y="519" width="5" height="14" fill="#00bfff"/>
<rect x="1235" y="526" width="1" height="29" fill="#00bfff"/>
<rect x="1233" y="535" width="5" height="4" fill="#00bfff"/>
<rect x="1243" y="527" width="1" height="33" fill="#ff0000"/>
<rect x="1241" y="530" width="5" height="11" fill="#ff0000"/>
<rect x="1251" y="513" width="1" height="31" fill="#ff0000"/>
<rect x="1249" y="515" width="5" height="23" fill="#ff0000"/>
<rect x="1259" y="487" width="1" height="34" fill="#ff0000"/>
<rect x="1257" y="488" width="5" height="29" fill="#ff0000"/>
<rect x="1267" y="487" width="1" height="32" fill="#00bfff"/>
<rect x="1265" y="490" width="5" height="24" fill="#00bfff"/>
<rect x="1275" y="508" width="1" height="35" fill="#00bfff"/>
<rect x="1273" y="516" width="5" height="9" fill="#00bfff"/>
<rect x="1283" y="510" width="1" height="19" fill="#ff0000"/>
<rect x="1281" y="516" width="5" height="10" fill="#ff0000"/>
<rect x="1291" y="514" width="1" height="32" fill="#00bfff"/>
<rect x="1289" y="519" width="5" height="17" fill="#00bfff"/>
<rect x="1299" y="536" width="1" height="23" fill="#00bfff"/>
<rect x="1297" y="537" width="5" height="13" fill="#00bfff"/>
<rect x="1307" y="520" width="1" height="35" fill="#ff0000"/>
<rect x="1305" y="522" width="5" height="28" fill="#ff0000"/>
<rect x="1315" y="513" width="1" height="21" fill="#00bfff"/>
<rect x="1313" y="523" width="5" height="3" fill="#00bfff"/>
<rect x="1323" y="462" width="1" height="67" fill="#ff0000"/>
<rect x="1321" y="463" width="5" height="66" fill="#ff0000"/>
<rect x="1331" y="465" width="1" height="29" fill="#00bfff"/>
<rect x="1329" y="467" width="5" height="18" fill="#00bfff"/>
<rect x="1339" y="484" width="1" height="39" fill="#00bfff"/>
<rect x="1337" y="484" width="5" height="23" fill="#00bfff"/>
<rect x="1347" y="507" width="1" height="19" fill="#00bfff"/>
<rect x="1345" y="508" width="5" height="8" fill="#00bfff"/>
<rect x="1355" y="492" width="1" height="29" fill="#ff0000"/>
<rect x="1353" y="496" width="5" height="22" fill="#ff0000"/>
<rect x="1363" y="497" width="1" height="18" fill="#00bfff"/>
<rect x="1361" y="498" width="5" height="15" fill="#00bfff"/>
<rect x="1371" y="497" width="1" height="24" fill="#ff0000"/>
<rect x="1369" y="501" width="5" height="14" fill="#ff0000"/>
<rect x="1379" y="485" width="1" height="21" fill="#ff0000"/>
<rect x="1377" y="494" width="5" height="10" fill="#ff0000"/>
<rect x="1387" y="485" width="1" height="11" fill="#ff0000"/>
<rect x="1385" y="489" width="5" height="7" fill="#ff0000"/>
<rect x="1395" y="476" width="1" height="33" fill="#00bfff"/>
<rect x="1393" y="494" width="5" height="9" fill="#00bfff"/>
<rect x="1403" y="490" width="1" height="19" fill="#ff0000"/>
<rect x="1401" y="494" width="5" height="11" fill="#ff0000"/>
<rect x="1411" y="491" width="1" height="14" fill="#ff0000"/>
<rect x="1409" y="492" width="5" height="5" fill="#ff0000"/>
<rect x="1419" y="483" width="1" height="18" fill="#ff0000"/>
<rect x="1417" y="488" width="5" height="5" fill="#ff0000"/>
<rect x="1427" y="451" width="1" height="43" fill="#ff0000"/>
<rect x="1425" y="458" width="5" height="32" fill="#ff0000"/>
<rect x="1435" y="451" width="1" height="20" fill="#ff0000"/>
<rect x="1433" y="452" width="5" height="4" fill="#ff0000"/>
<rect x="1443" y="452" width="1" height="9" fill="#ff0000"/>
<rect x="1441" y="455" width="5" height="1" fill="#ff0000"/>
<path d="M1442,498h2v1h-2zM1439,499h3v1h-3zM1437,500h2v1h-2zM1434,501h3v1h-3zM1431,502h3v1h-3zM1428,503h3v1h-3zM1425,504h3v1h-3zM1422,505h3v1h-3zM1406,506h16v1h-16zM1400,507h6v1h-6zM1396,508h4v1h-4zM1393,509h3v1h-3zM1390,510h3v1h-3zM1284,511h6v1h-6zM1386,511h4v1h-4zM1276,512h8v1h-8zM1290,512h3v1h-3zM1382,512h4v1h-4zM1270,513h6v1h-6zM1293,513h3v1h-3zM1376,513h6v1h-6zM1266,514h4v1h-4zM1296,514h4v1h-4zM1370,514h6v1h-6zM1263,515h3v1h-3zM1300,515h5v1h-5zM1357,515h13v1h-13zM1260,516h3v1h-3zM1305,516h52v1h-52zM1256,517h4v1h-4zM1253,518h3v1h-3zM1250,519h3v1h-3zM1247,520h3v1h-3zM1245,521h2v1h-2zM1242,522h3v1h-3zM1239,523h3v1h-3zM1236,524h3v1h-3zM1233,525h3v1h-3zM1230,526h3v1h-3zM1228,527h2v1h-2zM1225,528h3v1h-3zM1222,529h3v1h-3zM1219,530h3v1h-3zM1215,531h4v1h-4zM1212,532h3v1h-3zM1209,533h3v1h-3zM1205,534h4v1h-4zM1202,535h3v1h-3zM1200,536h2v1h-2zM1197,537h3v1h-3zM1195,538h2v1h-2zM1193,539h2v1h-2zM1190,540h3v1h-3zM1188,541h2v1h-2zM1186,542h2v1h-2zM1184,543h2v1h-2zM1182,544h2v1h-2zM1181,545h1v1h-1zM1179,546h2v1h-2zM1177,547h2v1h-2zM1176,548h1v1h-1zM1174,549h2v1h-2zM1173,550h1v1h-1zM1171,551h2v1h-2zM1169,552h2v1h-2zM1168,553h1v1h-1zM1166,554h2v1h-2zM1165,555h1v1h-1zM1164,556h1v1h-1zM1162,557h2v1h-2zM1161,558h1v1h-1zM1160,559h1v1h-1zM1158,560h2v1h-2zM1157,561h1v1h-1zM1156,562h1v1h-1zM1155,563h1v1h-1zM1153,564h2v1h-2zM1152,565h1v1h-1zM1151,566h1v1h-1zM1149,567h2v1h-2zM1148,568h1v1h-1zM1147,569h1v1h-1zM1146,570h1v1h-1zM1145,571h1v1h-1zM1144,572h1v1h-1zM1142,573h2v1h-2zM1141,574h1v1h-1zM1140,575h1v1h-1zM1139,576h1v1h-1zM1138,577h1v1h-1zM1136,578h2v1h-2zM1135,579h1v1h-1zM1133,580h2v1h-2zM1132,581h1v1h-1zM1131,582h1v1h-1zM1129,583h2v1h-2zM1128,584h1v1h-1zM1127,585h1v1h-1zM1125,586h2v1h-2zM1124,587h1v1h-1zM1123,588h1v1h-1zM1122,589h1v1h-1zM1120,590h2v1h-2zM1119,591h1v1h-1zM1118,592h1v1h-1zM1116,593h2v1h-2zM1115,594h1v1h-1zM1113,595h2v1h-2zM1112,596h1v1h-1zM1110,597h2v1h-2zM1109,598h1v1h-1zM1107,599h2v1h-2zM1106,600h1v1h-1zM1104,601h2v1h-2zM1103,602h1v1h-1zM1101,603h2v1h-2zM1099,604h2v1h-2zM1097,605h2v1h-2zM1094,606h3v1h-3zM1092,607h2v1h-2zM1090,608h2v1h-2zM1087,609h3v1h-3zM1084,610h3v1h-3zM1082,611h2v1h-2zM1079,612h3v1h-3zM1066,613h13v1h-13zM1063,614h3v1h-3zM1059,615h4v1h-4zM1056,616h3v1h-3zM1053,617h3v1h-3zM1050,618h3v1h-3zM1048,619h2v1h-2zM1046,620h2v1h-2zM1045,621h1v1h-1zM1044,622h1v1h-1zM1043,623h1v1h-1zM1042,624h1v1h-1zM1041,625h1v1h-1zM1040,626h1v1h-1zM1039,627h1v1h-1zM1039,628h1v1h-1zM1038,629h1v1h-1zM1037,630h1v1h-1zM1036,631h1v1h-1zM1035,632h1v1h-1zM1034,633h1v1h-1zM1033,634h1v1h-1zM1032,635h1v1h-1zM1031,636h1v1h-1zM1030,637h1v1h-1zM1029,638h1v1h-1zM1028,639h1v1h-1zM1027,640h1v1h-1zM1026,641h1v1h-1zM1025,642h1v1h-1zM1024,643h1v1h-1zM1023,644h1v1h-1zM1022,645h1v1h-1zM1021,646h1v1h-1zM1020,647h1v1h-1zM1019,648h1v1h-1zM1018,649h1v1h-1zM1016,650h2v1h-2zM1015,651h1v1h-1zM1014,652h1v1h-1zM1013,653h1v1h-1zM1012,654h1v1h-1zM1011,655h1v1h-1zM1010,656h1v1h-1zM1009,657h1v1h-1zM1007,658h2v1h-2zM1006,659h1v1h-1zM1005,660h1v1h-1zM1004,661h1v1h-1zM1002,662h2v1h-2zM1000,663h2v1h-2zM998,664h2v1h-2zM996,665h2v1h-2zM994,666h2v1h-2zM991,667h3v1h-3zM989,668h2v1h-2zM987,669h2v1h-2zM985,670h2v1h-2zM983,671h2v1h-2zM982,672h1v1h-1zM980,673h2v1h-2zM979,674h1v1h-1zM977,675h2v1h-2zM976,676h1v1h-1zM974,677h2v1h-2zM973,678h1v1h-1zM971,679h2v1h-2zM970,680h1v1h-1zM968,681h2v1h-2zM967,682h1v1h-1zM965,683h2v1h-2zM963,684h2v1h-2zM961,685h2v1h-2zM959,686h2v1h-2zM957,687h2v1h-2zM954,688h3v1h-3zM952,689h2v1h-2zM950,690h2v1h-2zM948,691h2v1h-2zM946,692h2v1h-2zM944,693h2v1h-2zM943,694h1v1h-1zM942,695h1v1h-1zM940,696h2v1h-2zM939,697h1v1h-1zM938,698h1v1h-1zM936,699h2v1h-2zM935,700h1v1h-1zM934,701h1v1h-1zM932,702h2v1h-2zM931,703h1v1h-1zM930,704h1v1h-1zM928,705h2v1h-2zM927,706h1v1h-1zM926,707h1v1h-1zM925,708h1v1h-1zM923,709h2v1h-2zM922,710h1v1h-1zM921,711h1v1h-1zM920,712h1v1h-1zM919,713h1v1h-1zM917,714h2v1h-2zM916,715h1v1h-1zM915,716h1v1h-1zM914,717h1v1h-1zM913,718h1v1h-1zM912,719h1v1h-1zM912,720h1v1h-1zM911,721h1v1h-1zM910,722h1v1h-1zM909,723h1v1h-1zM908,724h1v1h-1zM907,725h1v1h-1zM906,726h1v1h-1zM904,727h2v1h-2zM903,728h1v1h-1zM902,729h1v1h-1zM901,730h1v1h-1zM900,731h1v1h-1zM899,732h1v1h-1zM898,733h1v1h-1zM897,734h1v1h-1zM896,735h1v1h-1zM895,736h1v1h-1zM893,737h2v1h-2zM564,738h13v1h-13zM852,738h4v1h-4zM891,738h2v1h-2zM552,739h12v1h-12zM577,739h9v1h-9zM629,739h18v1h-18zM849,739h3v1h-3zM856,739h7v1h-7zM889,739h2v1h-2zM543,740h9v1h-9zM586,740h7v1h-7zM620,740h9v1h-9zM647,740h6v1h-6zM846,740h3v1h-3zM863,740h6v1h-6zM887,740h2v1h-2zM536,741h7v1h-7zM593,741h5v1h-5zM612,741h8v1h-8zM653,741h4v1h-4zM843,741h3v1h-3zM869,741h4v1h-4zM884,741h3v1h-3zM532,742h4v1h-4zM598,742h14v1h-14zM657,742h2v1h-2zM841,742h2v1h-2zM873,742h11v1h-11zM527,743h5v1h-5zM659,743h2v1h-2zM839,743h2v1h-2zM523,744h4v1h-4zM661,744h2v1h-2zM838,744h1v1h-1zM519,745h4v1h-4zM663,745h2v1h-2zM836,745h2v1h-2zM517,746h2v1h-2zM665,746h2v1h-2zM834,746h2v1h-2zM516,747h1v1h-1zM667,747h2v1h-2zM709,747h9v1h-9zM832,747h2v1h-2zM515,748h1v1h-1zM669,748h3v1h-3zM702,748h7v1h-7zM718,748h10v1h-10zM830,748h2v1h-2zM514,749h1v1h-1zM672,749h3v1h-3zM698,749h4v1h-4zM728,749h18v1h-18zM825,749h5v1h-5zM513,750h1v1h-1zM675,750h23v1h-23zM746,750h24v1h-24zM817,750h8v1h-8zM512,751h1v1h-1zM770,751h18v1h-18zM804,751h13v1h-13zM511,752h1v1h-1zM788,752h16v1h-16zM510,753h1v1h-1zM510,754h1v1h-1zM509,755h1v1h-1zM508,756h1v1h-1zM507,757h1v1h-1zM506,758h1v1h-1zM505,759h1v1h-1zM504,760h1v1h-1zM503,761h1v1h-1zM502,762h1v1h-1zM501,763h1v1h-1zM500,764h1v1h-1zM499,765h1v1h-1zM498,766h1v1h-1zM496,767h2v1h-2zM495,768h1v1h-1zM494,769h1v1h-1zM493,770h1v1h-1zM492,771h1v1h-1zM491,772h1v1h-1zM490,773h1v1h-1zM488,774h2v1h-2zM487,775h1v1h-1zM486,776h1v1h-1zM485,777h1v1h-1zM483,778h2v1h-2zM481,779h2v1h-2zM479,780h2v1h-2zM477,781h2v1h-2zM476,782h1v1h-1zM474,783h2v1h-2zM472,784h2v1h-2zM470,785h2v1h-2zM468,786h2v1h-2zM464,787h4v1h-4zM458,788h6v1h-6zM454,789h4v1h-4zM450,790h4v1h-4zM446,791h4v1h-4zM443,792h3v1h-3zM440,793h3v1h-3zM438,794h2v1h-2zM436,795h2v1h-2zM434,796h2v1h-2zM433,797h1v1h-1zM431,798h2v1h-2zM430,799h1v1h-1z" fill="#ff0000"/>
</g>
</g>
<polyline points="1125.6,554.4 1128.2,539.4 1131.6,523.2 1136.8,506.9 1142.7,492.4 1147.9,479.6 1152.1,474.4 1155.6,474.1 1159.8,477.9 1166.7,486.4 1173.5,500.1 1179.5,513.8 1183.8,519.7 1187.2,518.0 1195.7,506.9 1203.9,498.0 1211.1,505.2 1219.7,518.9 1226.5,533.4 1233.3,543.7 1236.8,539.4 1241.9,524.0 1248.7,508.6 1257.3,492.9 1261.5,501.8 1264.1,515.5 1266.2,536.0 1267.9,544.9 1270.9,539.4 1277.8,522.3 1284.3,510.3 1289.7,513.8 1296.8,529.1 1302.8,542.8 1305.4,532.6 1310.5,506.9 1317.4,481.3 1322.5,464.2 1325.0,461.6 1328.5,466.8 1334.4,481.3 1341.3,495.8 1348.1,507.8 1353.2,513.2 1358.4,507.8 1365.2,496.7 1372.9,486.4 1378.9,491.5 1389.1,498.4 1399.4,503.8 1403.7,503.5 1409.7,496.7 1416.5,483.0 1423.3,471.0 1428.5,460.8 1432.7,452.2" fill="none" stroke="#ffff00" stroke-width="2.9" stroke-linejoin="round" stroke-linecap="round"/>
<g shape-rendering="crispEdges">
<rect x="0" y="799" width="1833" height="1" fill="#fff"/>
<rect x="1832" y="409" width="1" height="391" fill="#fff"/>
<rect x="1831" y="440" width="3" height="79" fill="#fff"/>
<rect x="83" y="800" width="1" height="3" fill="#fff"/>
<rect x="179" y="800" width="1" height="3" fill="#fff"/>
<rect x="275" y="800" width="1" height="3" fill="#fff"/>
<rect x="371" y="800" width="1" height="3" fill="#fff"/>
<rect x="467" y="800" width="1" height="3" fill="#fff"/>
<rect x="563" y="800" width="1" height="3" fill="#fff"/>
<rect x="659" y="800" width="1" height="3" fill="#fff"/>
<rect x="755" y="800" width="1" height="3" fill="#fff"/>
<rect x="851" y="800" width="1" height="3" fill="#fff"/>
<rect x="947" y="800" width="1" height="3" fill="#fff"/>
<rect x="1043" y="800" width="1" height="3" fill="#fff"/>
<rect x="1139" y="800" width="1" height="3" fill="#fff"/>
<rect x="1235" y="800" width="1" height="3" fill="#fff"/>
<rect x="1331" y="800" width="1" height="3" fill="#fff"/>
<rect x="1427" y="800" width="1" height="3" fill="#fff"/>
<rect x="1833" y="438" width="2" height="1" fill="#fff"/>
<rect x="1833" y="535" width="2" height="1" fill="#fff"/>
<rect x="1833" y="584" width="2" height="1" fill="#fff"/>
<rect x="1833" y="633" width="2" height="1" fill="#fff"/>
<rect x="1833" y="682" width="2" height="1" fill="#fff"/>
<rect x="1833" y="731" width="2" height="1" fill="#fff"/>
<rect x="1833" y="780" width="2" height="1" fill="#fff"/>
<rect x="1834" y="448" width="53" height="14" fill="#fff"/>
<rect x="1834" y="480" width="53" height="14" fill="#ffff00"/>
<rect x="1834" y="547" width="53" height="14" fill="#0000ff"/>
</g>
<text x="4.0" y="815" fill="#fff" text-anchor="start" textLength="51.3" lengthAdjust="spacingAndGlyphs">Apr 2025</text>
<text x="81.4" y="815" fill="#fff" text-anchor="start" textLength="72.9" lengthAdjust="spacingAndGlyphs">16 May 2025</text>
<text x="177.4" y="815" fill="#fff" text-anchor="start" textLength="62.5" lengthAdjust="spacingAndGlyphs">3 Jun 2025</text>
<text x="273.4" y="815" fill="#fff" text-anchor="start" textLength="69.5" lengthAdjust="spacingAndGlyphs">19 Jun 2025</text>
<text x="369.4" y="815" fill="#fff" text-anchor="start" textLength="58.3" lengthAdjust="spacingAndGlyphs">7 Jul 2025</text>
<text x="465.4" y="815" fill="#fff" text-anchor="start" textLength="65.3" lengthAdjust="spacingAndGlyphs">23 Jul 2025</text>
<text x="561.4" y="815" fill="#fff" text-anchor="start" textLength="64.8" lengthAdjust="spacingAndGlyphs">8 Aug 2025</text>
<text x="657.4" y="815" fill="#fff" text-anchor="start" textLength="71.8" lengthAdjust="spacingAndGlyphs">26 Aug 2025</text>
<text x="753.4" y="815" fill="#fff" text-anchor="start" textLength="70.9" lengthAdjust="spacingAndGlyphs">11 Sep 2025</text>
<text x="849.4" y="815" fill="#fff" text-anchor="start" textLength="70.9" lengthAdjust="spacingAndGlyphs">29 Sep 2025</text>
<text x="945.4" y="815" fill="#fff" text-anchor="start" textLength="69.2" lengthAdjust="spacingAndGlyphs">15 Oct 2025</text>
<text x="1041.4" y="815" fill="#fff" text-anchor="start" textLength="69.2" lengthAdjust="spacingAndGlyphs">31 Oct 2025</text>
<text x="1137.4" y="815" fill="#fff" text-anchor="start" textLength="71.8" lengthAdjust="spacingAndGlyphs">18 Nov 2025</text>
<text x="1233.4" y="815" fill="#fff" text-anchor="start" textLength="64.3" lengthAdjust="spacingAndGlyphs">4 Dec 2025</text>
<text x="1329.4" y="815" fill="#fff" text-anchor="start" textLength="71.3" lengthAdjust="spacingAndGlyphs">22 Dec 2025</text>
<text x="1425.4" y="815" fill="#fff" text-anchor="start" textLength="62.1" lengthAdjust="spacingAndGlyphs">9 Jan 2026</text>
<text x="4.8" y="424" fill="#fff" text-anchor="start" textLength="96" lengthAdjust="spacingAndGlyphs">USDJPY.raw,Daily</text>
<text x="108" y="424" fill="#fff" text-anchor="start" textLength="197" lengthAdjust="spacingAndGlyphs">158.047 158.174 157.894 158.073</text>
<text x="1839" y="442" fill="#fff" text-anchor="start" textLength="46.4" lengthAdjust="spacingAndGlyphs">158.693</text>
<text x="1839" y="539" fill="#fff" text-anchor="start" textLength="46.4" lengthAdjust="spacingAndGlyphs">155.193</text>
<text x="1839" y="588" fill="#fff" text-anchor="start" textLength="46.4" lengthAdjust="spacingAndGlyphs">153.443</text>
<text x="1839" y="637" fill="#fff" text-anchor="start" textLength="46.4" lengthAdjust="spacingAndGlyphs">151.693</text>
<text x="1839" y="686" fill="#fff" text-anchor="start" textLength="46.4" lengthAdjust="spacingAndGlyphs">149.943</text>
<text x="1839" y="735" fill="#fff" text-anchor="start" textLength="46.4" lengthAdjust="spacingAndGlyphs">148.193</text>
<text x="1839" y="784" fill="#fff" text-anchor="start" textLength="46.4" lengthAdjust="spacingAndGlyphs">146.443</text>
<text x="1839" y="459.5" fill="#0b0a2c" text-anchor="start" textLength="46.4" lengthAdjust="spacingAndGlyphs">158.073</text>
<text x="1839" y="491.5" fill="#0b0a2c" text-anchor="start" textLength="46.4" lengthAdjust="spacingAndGlyphs">156.940</text>
<text x="1839" y="558.5" fill="#0b0a2c" text-anchor="start" textLength="46.4" lengthAdjust="spacingAndGlyphs">154.544</text>
<g id="toolbar">
<defs>
<filter id="sh" x="-30%" y="-5%" width="160%" height="110%"><feGaussianBlur stdDeviation="2.2"/></filter>
<filter id="ish" x="-20%" y="-20%" width="150%" height="150%"><feDropShadow dx="0.5" dy="0.6" stdDeviation="0.6" flood-color="#000" flood-opacity="0.45"/></filter>
</defs>
<rect x="1637" y="213" width="45" height="533" fill="#000" opacity="0.35" filter="url(#sh)"/>
<rect x="1638" y="213.5" width="42.5" height="530" fill="#fff"/>
<rect x="1640" y="216" width="38.2" height="37.5" fill="#33c3ec"/><rect x="1641" y="253.4" width="37" height="37.5" fill="#33c3ec"/>
<g stroke="#dff0df" stroke-width="0.6">
<line x1="1641" y1="253.4" x2="1678" y2="253.4" stroke="#6fd3f0"/>
<line x1="1641" y1="328.5" x2="1678" y2="328.5"/>
<line x1="1641" y1="403.2" x2="1678" y2="403.2"/>
<line x1="1641" y1="478.2" x2="1678" y2="478.2"/>
<line x1="1641" y1="553.4" x2="1678" y2="553.4"/>
</g>
<!-- A: pen + eye -->
<g transform="translate(1630,155) scale(0.1221)">
<circle cx="240" cy="232" r="172" fill="#000"/>
<path d="M178,115 L300,115 L340,215 C322,245 288,290 268,360 L210,360 C190,290 156,245 138,215 Z" fill="#fff"/>
<circle cx="237" cy="210" r="33" fill="#000"/>
<rect x="232" y="235" width="10" height="126" fill="#000"/>
</g>
<g filter="url(#ish)">
<g transform="translate(1630,155) scale(0.1221)">
<path d="M118,645 C160,592 205,575 240,575 C278,575 325,595 360,645 C325,697 278,720 240,720 C205,720 160,700 118,645 Z" fill="#fff" stroke="#333" stroke-width="11"/>
<circle cx="237" cy="640" r="60" fill="#fff" stroke="#333" stroke-width="9"/>
<circle cx="237" cy="640" r="41" fill="#2b2b2b"/>
</g>
<!-- B: arrow + stopwatch -->
<g transform="translate(1630,245) scale(0.1221)">
<polygon points="133,120 345,185 265,222 342,295 315,322 232,252 203,322" fill="#fff" stroke="#333" stroke-width="11" stroke-linejoin="round"/>
<circle cx="237" cy="545" r="88" fill="#fff" stroke="#3a3a3a" stroke-width="10"/>
<circle cx="237" cy="545" r="66" fill="#fff" stroke="#3a3a3a" stroke-width="8"/>
<rect x="214" y="421" width="46" height="20" rx="5" fill="#4a4a4a"/>
<rect x="229" y="440" width="16" height="14" fill="#4a4a4a"/>
<line x1="150" y1="478" x2="170" y2="460" stroke="#3a3a3a" stroke-width="11"/>
<line x1="310" y1="460" x2="328" y2="478" stroke="#3a3a3a" stroke-width="11"/>
<circle cx="237" cy="500" r="7" fill="#444"/><circle cx="243" cy="550" r="7" fill="#444"/>
<line x1="135" y1="630" x2="345" y2="425" stroke="#2a2a2a" stroke-width="11"/>
</g>
<!-- C: pencil -->
<g transform="translate(1638,328) scale(0.048828)">
<path d="M125,140 L365,140 L712,472 Q720,486 705,500 L505,690 Q487,700 468,690 L125,378 Z" fill="#fff" stroke="#222" stroke-width="24" stroke-linejoin="round"/>
<path d="M125,140 L280,140 L125,295 Z" fill="#222"/>
<path d="M190,385 L275,362 L300,355 L455,505 L400,562 Z" fill="#dadada" stroke="#222" stroke-width="20" stroke-linejoin="round"/>
<path d="M300,285 L375,268 L545,420 L455,505 L300,355 Z" fill="#eee" stroke="#222" stroke-width="20" stroke-linejoin="round"/>
<path d="M140,368 L270,360 L275,300 Q285,275 312,278 L375,266 L365,150" fill="none" stroke="#222" stroke-width="22" stroke-linejoin="round"/>
<path d="M405,578 L615,393 M442,614 L652,430" stroke="#222" stroke-width="20" fill="none"/>
</g>
<!-- C: line -->
<g transform="translate(1630,325) scale(0.1221)">
<line x1="142" y1="390" x2="328" y2="572" stroke="#333" stroke-width="28" stroke-linecap="round"/>
<line x1="142" y1="390" x2="328" y2="572" stroke="#fff" stroke-width="9" stroke-linecap="round"/>
</g>
<!-- D: eraser -->
<g transform="translate(1638,403) scale(0.048828)">
<path d="M320,75 L420,160 Q440,145 460,165 L735,425 Q745,440 730,455 L760,485 L545,690 L510,655 Q490,665 465,650 L200,395 Q185,375 205,355 L110,272 Z" fill="#e6e6e6" stroke="#2a2a2a" stroke-width="24" stroke-linejoin="round"/>
<path d="M210,355 L290,325 L570,585 L510,655 Q490,665 465,650 L200,395 Z" fill="#d4d4d4" stroke="#2a2a2a" stroke-width="22" stroke-linejoin="round"/>
<path d="M570,585 L730,455 L760,485 L545,690 L510,655 Z" fill="#fff" stroke="#2a2a2a" stroke-width="22" stroke-linejoin="round"/>
<path d="M320,75 L420,160 L210,355 L110,272 Z" fill="#f6f6f6" stroke="#2a2a2a" stroke-width="22" stroke-linejoin="round"/>
<path d="M195,195 L285,275" stroke="#2a2a2a" stroke-width="22"/>
</g>
<g transform="translate(1630,400) scale(0.1221)">
<circle cx="238" cy="490" r="27" fill="#222"/>
</g>
<!-- E: undo + trash -->
<g transform="translate(1630,475) scale(0.1221)">
<path d="M122,155 L210,88 L210,128 L275,128 C330,128 352,165 352,200 C352,250 310,282 250,282 L250,245 C285,245 305,225 305,200 C305,180 290,170 270,170 L210,170 L210,222 Z" fill="#fff" stroke="#333" stroke-width="11" stroke-linejoin="round"/>
<rect x="215" y="378" width="50" height="20" rx="5" fill="#eee" stroke="#444" stroke-width="10"/>
<path d="M162,445 L318,445 L308,575 L172,575 Z" fill="#f2f2f2" stroke="#444" stroke-width="10"/>
<line x1="205" y1="445" x2="205" y2="575" stroke="#444" stroke-width="10"/>
<line x1="275" y1="445" x2="275" y2="575" stroke="#444" stroke-width="10"/>
<rect x="150" y="400" width="178" height="40" rx="10" fill="#eee" stroke="#444" stroke-width="10"/>
<rect x="172" y="570" width="136" height="15" rx="4" fill="#eee" stroke="#444" stroke-width="9"/>
</g>
<!-- F: easel + camera -->
<g transform="translate(1630,550) scale(0.1221)">
<line x1="203" y1="240" x2="188" y2="288" stroke="#444" stroke-width="20" stroke-linecap="round"/>
<line x1="262" y1="240" x2="277" y2="288" stroke="#444" stroke-width="20" stroke-linecap="round"/>
<line x1="203" y1="240" x2="188" y2="288" stroke="#eee" stroke-width="5" stroke-linecap="round"/>
<line x1="262" y1="240" x2="277" y2="288" stroke="#eee" stroke-width="5" stroke-linecap="round"/>
<rect x="205" y="72" width="60" height="22" rx="5" fill="#ddd" stroke="#444" stroke-width="10"/>
<rect x="140" y="92" width="185" height="133" rx="14" fill="#fff" stroke="#444" stroke-width="11"/>
<rect x="165" y="120" width="138" height="80" rx="4" fill="#dcdcdc" stroke="#444" stroke-width="10"/>
<rect x="175" y="228" width="115" height="16" rx="3" fill="#eee" stroke="#444" stroke-width="9"/>
<rect x="195" y="412" width="80" height="30" rx="5" fill="#fff" stroke="#444" stroke-width="10"/>
<rect x="130" y="437" width="220" height="145" rx="8" fill="#fff" stroke="#444" stroke-width="11"/>
<rect x="208" y="426" width="48" height="14" rx="3" fill="#333"/>
<circle cx="208" cy="505" r="55" fill="#fff" stroke="#444" stroke-width="10"/>
<circle cx="208" cy="505" r="38" fill="#2d2d2d"/>
<circle cx="222" cy="492" r="13" fill="#fff"/>
<circle cx="312" cy="485" r="13" fill="#fff" stroke="#444" stroke-width="8"/>
</g>
<!-- G: clipboard -->
<g transform="translate(1630,625) scale(0.15267)">
<rect x="120" y="70" width="142" height="155" rx="14" fill="#fff" stroke="#444" stroke-width="9"/>
<path d="M150,73 C167,73 165,52 190,48 C215,52 213,73 232,73 Z" fill="#fff" stroke="#444" stroke-width="8" stroke-linejoin="round"/>
<line x1="145" y1="115" x2="240" y2="115" stroke="#444" stroke-width="8"/>
<line x1="145" y1="150" x2="240" y2="150" stroke="#444" stroke-width="8"/>
<line x1="145" y1="183" x2="240" y2="183" stroke="#444" stroke-width="8"/>
</g>
</g>
<!-- corner triangles and dots -->
<g transform="translate(1630,245) scale(0.1221)">
<polygon points="393,308 393,375 325,375" fill="#222"/>
<polygon points="393,615 393,680 328,680" fill="#222"/>
</g>
<g transform="translate(1630,325) scale(0.1221)">
<polygon points="393,265 393,332 325,332" fill="#222"/>
<polygon points="393,570 393,637 325,637" fill="#222"/>
<circle cx="352" cy="397" r="40" fill="#ff1088"/>
</g>
<g transform="translate(1630,550) scale(0.1221)">
<polygon points="393,265 393,333 325,333" fill="#222"/>
<circle cx="352" cy="88" r="40" fill="#ff1088"/>
</g>
<g shape-rendering="crispEdges">
<rect x="1640.5" y="666" width="18.6" height="18.75" fill="#00aeef"/>
<rect x="1659.1" y="666" width="18.9" height="18.75" fill="#fff200"/>
<rect x="1640.5" y="684.75" width="18.6" height="18.75" fill="#ff0f87"/>
<rect x="1659.1" y="684.75" width="18.9" height="18.75" fill="#000"/>
<rect x="1640.5" y="703.5" width="37.5" height="37.5" fill="#fff200"/>
</g>
</g>

</svg></body></html>
